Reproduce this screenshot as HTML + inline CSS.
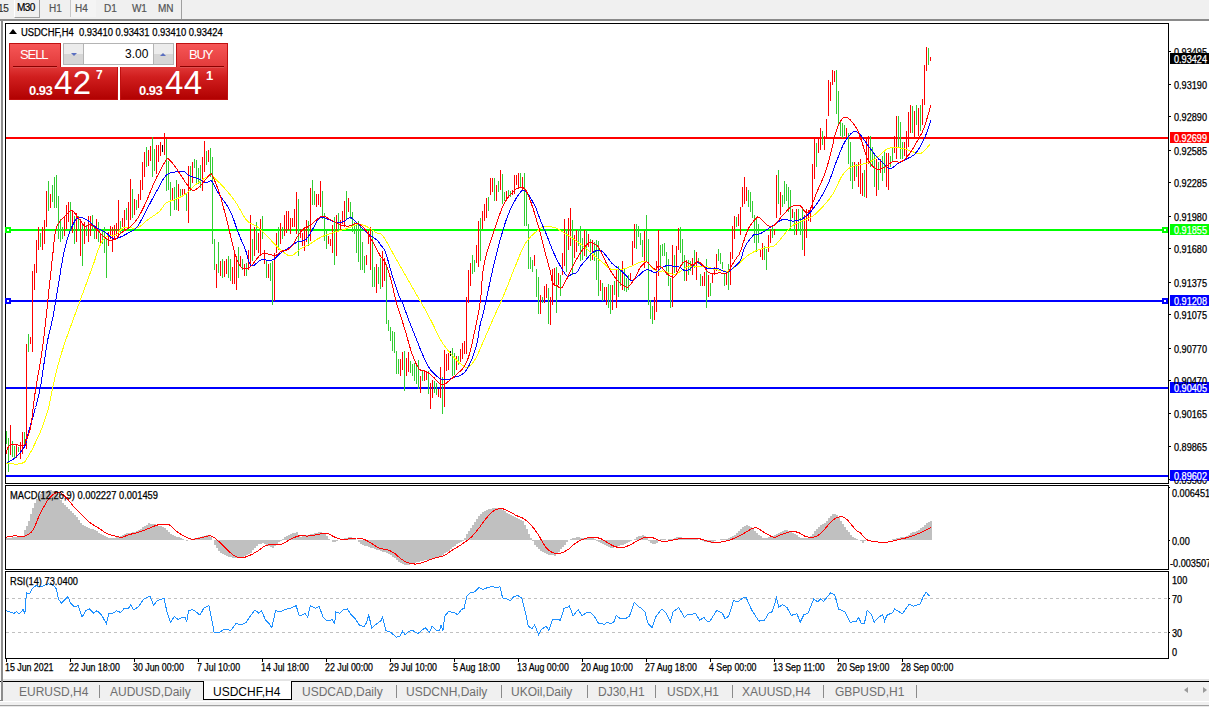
<!DOCTYPE html><html><head><meta charset="utf-8"><style>
*{margin:0;padding:0;box-sizing:border-box}
html,body{width:1209px;height:707px;overflow:hidden;background:#f0f0f0;font-family:"Liberation Sans", sans-serif;}
.a{position:absolute;white-space:nowrap}
.t{z-index:3;position:absolute;white-space:nowrap;font-size:10px;line-height:10px;color:#000;transform-origin:0 0;-webkit-text-stroke:0.25px currentColor}
.p{z-index:3;position:absolute;white-space:nowrap;font-size:10px;line-height:10px;color:#000;left:1174px;transform:scaleX(0.914);transform-origin:0 0;-webkit-text-stroke:0.25px currentColor}
.tab{position:absolute;white-space:nowrap;font-size:12px;line-height:12px;color:#6e6e6e;top:686px}
</style></head><body>
<div class="a" style="left:14px;top:0;width:26px;height:18px;background:#f0f0f0;border-left:1px solid #fff;border-right:1px solid #a0a0a0;border-bottom:1px solid #a0a0a0"></div><div class="a" style="left:70px;top:0;width:26px;height:17px;background:#f4f4f4;border-left:1px solid #c8c8c8"></div><div class="a" style="left:-2px;top:4px;font-size:10px;line-height:10px;color:#333;letter-spacing:-0.2px;-webkit-text-stroke:0.2px #333">15</div><div class="a" style="left:17px;top:3px;font-size:10px;line-height:10px;color:#000;letter-spacing:-0.6px;-webkit-text-stroke:0.2px #000">M30</div><div class="a" style="left:49px;top:4px;font-size:10px;line-height:10px;color:#555;letter-spacing:0px;-webkit-text-stroke:0.2px #555">H1</div><div class="a" style="left:75px;top:4px;font-size:10px;line-height:10px;color:#555;letter-spacing:0px;-webkit-text-stroke:0.2px #555">H4</div><div class="a" style="left:104px;top:4px;font-size:10px;line-height:10px;color:#555;letter-spacing:0px;-webkit-text-stroke:0.2px #555">D1</div><div class="a" style="left:132px;top:4px;font-size:10px;line-height:10px;color:#555;letter-spacing:-0.3px;-webkit-text-stroke:0.2px #555">W1</div><div class="a" style="left:158px;top:4px;font-size:10px;line-height:10px;color:#555;letter-spacing:0px;-webkit-text-stroke:0.2px #555">MN</div><div class="a" style="left:181px;top:0;width:1px;height:19px;background:#a0a0a0"></div><div class="a" style="left:0;top:19px;width:1209px;height:2px;background:#8a8a8a"></div><div class="a" style="left:3px;top:21px;width:1206px;height:660px;background:#fff"></div><div class="a" style="left:0;top:21px;width:1px;height:680px;background:#f8f8f8"></div><div class="a" style="left:1px;top:20px;width:2px;height:681px;background:#8c8c8c;z-index:2"></div><div class="a" style="left:5px;top:23px;width:1164px;height:461px;border:1px solid #000"></div><div class="a" style="left:5px;top:485px;width:1164px;height:85px;border:1px solid #000"></div><div class="a" style="left:5px;top:571px;width:1164px;height:88px;border:1px solid #000"></div><div class="a" style="left:3px;top:679px;width:1206px;height:2px;background:#e4e4e4"></div><div class="a" style="left:0;top:681px;width:1209px;height:1px;background:#000"></div><div class="a" style="left:0;top:682px;width:1209px;height:19px;background:#f0f0f0"></div><div class="a" style="left:0;top:701px;width:1209px;height:1px;background:#fff"></div><div class="a" style="left:1px;top:682px;width:2px;height:18px;background:#8c8c8c"></div><div class="a" style="left:0;top:682px;width:1px;height:19px;background:#fafafa"></div><div class="a" style="left:0;top:700px;width:3px;height:1px;background:#8c8c8c"></div><div class="a" style="left:0;top:702px;width:1209px;height:3px;background:#f0f0f0"></div><div class="a" style="left:0;top:705px;width:1209px;height:1px;background:#a0a0a0"></div><div class="a" style="left:0;top:706px;width:1209px;height:1px;background:#e8e8e8"></div><div class="a" style="left:203px;top:681px;width:89px;height:19px;background:#fff;border:1px solid #000;border-top:none"></div><div class="tab" style="left:19px;color:#6e6e6e">EURUSD,H4</div><div class="tab" style="left:110px;color:#6e6e6e">AUDUSD,Daily</div><div class="tab" style="left:213px;color:#000">USDCHF,H4</div><div class="tab" style="left:302px;color:#6e6e6e">USDCAD,Daily</div><div class="tab" style="left:406px;color:#6e6e6e">USDCNH,Daily</div><div class="tab" style="left:511px;color:#6e6e6e">UKOil,Daily</div><div class="tab" style="left:598px;color:#6e6e6e">DJ30,H1</div><div class="tab" style="left:667px;color:#6e6e6e">USDX,H1</div><div class="tab" style="left:742px;color:#6e6e6e">XAUUSD,H4</div><div class="tab" style="left:835px;color:#6e6e6e">GBPUSD,H1</div><div class="a" style="left:99px;top:685px;width:1px;height:13px;background:#8a8a8a"></div><div class="a" style="left:396px;top:685px;width:1px;height:13px;background:#8a8a8a"></div><div class="a" style="left:501px;top:685px;width:1px;height:13px;background:#8a8a8a"></div><div class="a" style="left:587px;top:685px;width:1px;height:13px;background:#8a8a8a"></div><div class="a" style="left:655px;top:685px;width:1px;height:13px;background:#8a8a8a"></div><div class="a" style="left:732px;top:685px;width:1px;height:13px;background:#8a8a8a"></div><div class="a" style="left:823px;top:685px;width:1px;height:13px;background:#8a8a8a"></div><div class="a" style="left:916px;top:685px;width:1px;height:13px;background:#8a8a8a"></div><div class="a" style="left:1184px;top:687px;width:0;height:0;border-top:3px solid transparent;border-bottom:3px solid transparent;border-right:4px solid #9a9a9a"></div><div class="a" style="left:1203px;top:687px;width:0;height:0;border-top:3px solid transparent;border-bottom:3px solid transparent;border-left:4px solid #9a9a9a"></div><div class="a" style="left:9px;top:29px;width:0;height:0;border-left:4px solid transparent;border-right:4px solid transparent;border-bottom:5px solid #000"></div><div class="t" style="left:21px;top:28px;transform:scaleX(0.94)">USDCHF,H4&nbsp; 0.93410 0.93431 0.93410 0.93424</div><div class="a" style="left:9px;top:43px;width:52px;height:24px;background:linear-gradient(#f65656,#e23a3a 40%,#d01e1e 60%,#b00000);background-size:100% 57px;background-position:0 0;border:1px solid #c01010;border-bottom:none"></div><div class="a" style="left:9px;top:67px;width:109px;height:33px;background:linear-gradient(#f65656,#e23a3a 40%,#d01e1e 60%,#b00000);background-size:100% 57px;background-position:0 -24px;border:1px solid #c01010;border-top:none"></div><div class="a" style="left:176px;top:43px;width:52px;height:24px;background:linear-gradient(#f65656,#e23a3a 40%,#d01e1e 60%,#b00000);background-size:100% 57px;background-position:0 0;border:1px solid #c01010;border-bottom:none"></div><div class="a" style="left:120px;top:67px;width:108px;height:33px;background:linear-gradient(#f65656,#e23a3a 40%,#d01e1e 60%,#b00000);background-size:100% 57px;background-position:0 -24px;border:1px solid #c01010;border-top:none"></div><div class="a" style="left:13px;top:66px;width:44px;height:1px;background:#8a0000"></div><div class="a" style="left:13px;top:67px;width:44px;height:1px;background:#e05050"></div><div class="a" style="left:180px;top:66px;width:44px;height:1px;background:#8a0000"></div><div class="a" style="left:180px;top:67px;width:44px;height:1px;background:#e05050"></div><div class="a" style="left:20px;top:48px;font-size:13px;line-height:13px;color:#fff;letter-spacing:-1.1px">SELL</div><div class="a" style="left:189px;top:48px;font-size:13px;line-height:13px;color:#fff;letter-spacing:-1.1px">BUY</div><div class="a" style="left:63px;top:43px;width:111px;height:22px;background:#fff;border:1px solid #b4b4b4"></div><div class="a" style="left:64px;top:44px;width:20px;height:20px;background:linear-gradient(#ececec 50%,#d6d6d6 50%);border-right:1px solid #b4b4b4"></div><div class="a" style="left:153px;top:44px;width:20px;height:20px;background:linear-gradient(#ececec 50%,#d6d6d6 50%);border-left:1px solid #b4b4b4"></div><div class="a" style="left:71px;top:53px;width:0;height:0;border-left:3px solid transparent;border-right:3px solid transparent;border-top:3px solid #5a6fc0"></div><div class="a" style="left:160px;top:53px;width:0;height:0;border-left:3px solid transparent;border-right:3px solid transparent;border-bottom:3px solid #5a6fc0"></div><div class="a" style="left:125px;top:48px;font-size:12px;line-height:12px;color:#000">3.00</div><div class="a" style="left:29px;top:84px;font-size:13px;line-height:13px;color:#fff;font-weight:bold;letter-spacing:-0.5px">0.93</div><div class="a" style="left:54px;top:66px;font-size:33px;line-height:33px;color:#fff;letter-spacing:0.5px">42</div><div class="a" style="left:96px;top:69px;font-size:12px;line-height:12px;color:#fff;font-weight:bold">7</div><div class="a" style="left:139px;top:84px;font-size:13px;line-height:13px;color:#fff;font-weight:bold;letter-spacing:-0.5px">0.93</div><div class="a" style="left:165px;top:66px;font-size:33px;line-height:33px;color:#fff;letter-spacing:0.5px">44</div><div class="a" style="left:206px;top:69px;font-size:13px;line-height:13px;color:#fff;font-weight:bold">1</div><div class="p" style="left:1174px;top:48px;">0.93495</div><div class="p" style="left:1174px;top:81px;">0.93190</div><div class="p" style="left:1174px;top:113px;">0.92890</div><div class="p" style="left:1174px;top:147px;">0.92585</div><div class="p" style="left:1174px;top:179px;">0.92285</div><div class="p" style="left:1174px;top:213px;">0.91980</div><div class="p" style="left:1174px;top:245px;">0.91680</div><div class="p" style="left:1174px;top:279px;">0.91375</div><div class="p" style="left:1174px;top:311px;">0.91075</div><div class="p" style="left:1174px;top:345px;">0.90770</div><div class="p" style="left:1174px;top:377px;">0.90470</div><div class="p" style="left:1174px;top:410px;">0.90165</div><div class="p" style="left:1174px;top:443px;">0.89865</div><div class="a" style="left:1174px;top:480px;width:35px;height:4px;overflow:hidden"><div class="p" style="left:0;top:-4px">0.89560</div></div><div class="a" style="left:1170px;top:53px;width:39px;height:11px;background:#000;z-index:2"></div><div class="p" style="left:1174px;top:55px;color:#fff">0.93424</div><div class="a" style="left:1170px;top:132px;width:39px;height:11px;background:#ff0000;z-index:2"></div><div class="p" style="left:1174px;top:134px;color:#fff">0.92699</div><div class="a" style="left:1170px;top:224px;width:39px;height:11px;background:#00ff00;z-index:2"></div><div class="p" style="left:1174px;top:226px;color:#fff">0.91855</div><div class="a" style="left:1170px;top:295px;width:39px;height:11px;background:#0000ff;z-index:2"></div><div class="p" style="left:1174px;top:297px;color:#fff">0.91208</div><div class="a" style="left:1170px;top:382px;width:39px;height:11px;background:#0000ff;z-index:2"></div><div class="p" style="left:1174px;top:384px;color:#fff">0.90405</div><div class="a" style="left:1170px;top:470px;width:39px;height:11px;background:#0000ff;z-index:2"></div><div class="p" style="left:1174px;top:472px;color:#fff">0.89602</div><div class="t" style="left:10px;top:491px;transform:scaleX(0.934)">MACD(12,26,9) 0.002227 0.001459</div><div class="p" style="left:1172px;top:489px;left:1172px">0.006451</div><div class="p" style="left:1172px;top:537px;left:1172px">0.00</div><div class="a" style="left:1170px;top:559px;width:39px;height:10px;overflow:hidden"><div class="p" style="left:0;top:0px">-0.003507</div></div><div class="t" style="left:10px;top:577px;transform:scaleX(0.926)">RSI(14) 73.0400</div><div class="p" style="left:1172px;top:576px;left:1172px">100</div><div class="p" style="left:1172px;top:595px;left:1172px">70</div><div class="p" style="left:1172px;top:629px;left:1172px">30</div><div class="p" style="left:1172px;top:648px;left:1172px">0</div><div class="t" style="left:5px;top:663px;transform:scaleX(0.88)">15 Jun 2021</div><div class="t" style="left:69px;top:663px;transform:scaleX(0.88)">22 Jun 18:00</div><div class="t" style="left:133px;top:663px;transform:scaleX(0.88)">30 Jun 00:00</div><div class="t" style="left:197px;top:663px;transform:scaleX(0.88)">7 Jul 10:00</div><div class="t" style="left:261px;top:663px;transform:scaleX(0.88)">14 Jul 18:00</div><div class="t" style="left:325px;top:663px;transform:scaleX(0.88)">22 Jul 00:00</div><div class="t" style="left:389px;top:663px;transform:scaleX(0.88)">29 Jul 10:00</div><div class="t" style="left:453px;top:663px;transform:scaleX(0.88)">5 Aug 18:00</div><div class="t" style="left:517px;top:663px;transform:scaleX(0.88)">13 Aug 00:00</div><div class="t" style="left:581px;top:663px;transform:scaleX(0.88)">20 Aug 10:00</div><div class="t" style="left:645px;top:663px;transform:scaleX(0.88)">27 Aug 18:00</div><div class="t" style="left:709px;top:663px;transform:scaleX(0.88)">4 Sep 00:00</div><div class="t" style="left:773px;top:663px;transform:scaleX(0.88)">13 Sep 11:00</div><div class="t" style="left:837px;top:663px;transform:scaleX(0.88)">20 Sep 19:00</div><div class="t" style="left:901px;top:663px;transform:scaleX(0.88)">28 Sep 00:00</div>
<svg class="a" style="left:0;top:0;z-index:1" width="1209" height="707" viewBox="0 0 1209 707"><g shape-rendering="crispEdges"><rect x="1169" y="51" width="2" height="1" fill="#000"/><rect x="1169" y="84" width="2" height="1" fill="#000"/><rect x="1169" y="116" width="2" height="1" fill="#000"/><rect x="1169" y="150" width="2" height="1" fill="#000"/><rect x="1169" y="182" width="2" height="1" fill="#000"/><rect x="1169" y="216" width="2" height="1" fill="#000"/><rect x="1169" y="248" width="2" height="1" fill="#000"/><rect x="1169" y="282" width="2" height="1" fill="#000"/><rect x="1169" y="314" width="2" height="1" fill="#000"/><rect x="1169" y="348" width="2" height="1" fill="#000"/><rect x="1169" y="380" width="2" height="1" fill="#000"/><rect x="1169" y="413" width="2" height="1" fill="#000"/><rect x="1169" y="446" width="2" height="1" fill="#000"/><rect x="1169" y="479" width="2" height="1" fill="#000"/><rect x="6" y="137" width="1162" height="2" fill="#ff0000"/><rect x="6" y="229" width="1162" height="2" fill="#00ff00"/><rect x="6" y="300" width="1162" height="2" fill="#0000ff"/><rect x="6" y="387" width="1162" height="2" fill="#0000ff"/><rect x="6" y="475" width="1162" height="2" fill="#0000ff"/><rect x="5" y="227" width="6" height="6" fill="#00ff00"/><rect x="7" y="229" width="2" height="2" fill="#fff"/><rect x="5" y="298" width="6" height="6" fill="#0000ff"/><rect x="7" y="300" width="2" height="2" fill="#fff"/><rect x="1162" y="227" width="6" height="6" fill="#00ff00"/><rect x="1164" y="229" width="2" height="2" fill="#fff"/><rect x="1162" y="298" width="6" height="6" fill="#0000ff"/><rect x="1164" y="300" width="2" height="2" fill="#fff"/><rect x="6" y="431" width="1" height="13" fill="#32cd32"/><rect x="8" y="438" width="1" height="34" fill="#32cd32"/><rect x="10" y="425" width="1" height="30" fill="#ff0000"/><rect x="12" y="441" width="1" height="16" fill="#32cd32"/><rect x="14" y="446" width="1" height="12" fill="#32cd32"/><rect x="16" y="444" width="1" height="14" fill="#ff0000"/><rect x="18" y="447" width="1" height="5" fill="#32cd32"/><rect x="20" y="442" width="1" height="17" fill="#ff0000"/><rect x="22" y="432" width="1" height="22" fill="#ff0000"/><rect x="24" y="432" width="1" height="16" fill="#32cd32"/><rect x="26" y="344" width="1" height="105" fill="#ff0000"/><rect x="28" y="334" width="1" height="18" fill="#32cd32"/><rect x="30" y="337" width="1" height="7" fill="#ff0000"/><rect x="32" y="271" width="1" height="81" fill="#ff0000"/><rect x="34" y="264" width="1" height="26" fill="#ff0000"/><rect x="36" y="240" width="1" height="33" fill="#ff0000"/><rect x="38" y="227" width="1" height="23" fill="#ff0000"/><rect x="40" y="233" width="1" height="14" fill="#32cd32"/><rect x="42" y="227" width="1" height="23" fill="#ff0000"/><rect x="44" y="220" width="1" height="24" fill="#ff0000"/><rect x="46" y="191" width="1" height="36" fill="#ff0000"/><rect x="48" y="181" width="1" height="30" fill="#32cd32"/><rect x="50" y="194" width="1" height="14" fill="#ff0000"/><rect x="52" y="185" width="1" height="17" fill="#32cd32"/><rect x="54" y="177" width="1" height="31" fill="#32cd32"/><rect x="56" y="175" width="1" height="33" fill="#32cd32"/><rect x="58" y="196" width="1" height="43" fill="#32cd32"/><rect x="60" y="219" width="1" height="23" fill="#32cd32"/><rect x="62" y="227" width="1" height="12" fill="#32cd32"/><rect x="64" y="216" width="1" height="20" fill="#ff0000"/><rect x="66" y="205" width="1" height="24" fill="#ff0000"/><rect x="68" y="202" width="1" height="20" fill="#ff0000"/><rect x="70" y="202" width="1" height="28" fill="#32cd32"/><rect x="72" y="211" width="1" height="22" fill="#ff0000"/><rect x="74" y="216" width="1" height="28" fill="#32cd32"/><rect x="76" y="213" width="1" height="29" fill="#ff0000"/><rect x="78" y="216" width="1" height="14" fill="#32cd32"/><rect x="80" y="219" width="1" height="37" fill="#ff0000"/><rect x="82" y="225" width="1" height="41" fill="#32cd32"/><rect x="84" y="222" width="1" height="22" fill="#ff0000"/><rect x="86" y="225" width="1" height="11" fill="#32cd32"/><rect x="88" y="216" width="1" height="26" fill="#ff0000"/><rect x="90" y="216" width="1" height="20" fill="#ff0000"/><rect x="92" y="215" width="1" height="15" fill="#32cd32"/><rect x="94" y="225" width="1" height="14" fill="#32cd32"/><rect x="96" y="219" width="1" height="20" fill="#ff0000"/><rect x="98" y="222" width="1" height="20" fill="#32cd32"/><rect x="100" y="233" width="1" height="11" fill="#ff0000"/><rect x="102" y="230" width="1" height="14" fill="#32cd32"/><rect x="104" y="227" width="1" height="26" fill="#32cd32"/><rect x="106" y="239" width="1" height="39" fill="#32cd32"/><rect x="108" y="232" width="1" height="14" fill="#ff0000"/><rect x="110" y="226" width="1" height="13" fill="#ff0000"/><rect x="112" y="227" width="1" height="25" fill="#ff0000"/><rect x="114" y="225" width="1" height="14" fill="#ff0000"/><rect x="116" y="223" width="1" height="13" fill="#ff0000"/><rect x="118" y="200" width="1" height="37" fill="#ff0000"/><rect x="120" y="221" width="1" height="13" fill="#32cd32"/><rect x="122" y="218" width="1" height="9" fill="#ff0000"/><rect x="124" y="210" width="1" height="20" fill="#ff0000"/><rect x="126" y="208" width="1" height="12" fill="#32cd32"/><rect x="128" y="202" width="1" height="25" fill="#ff0000"/><rect x="130" y="179" width="1" height="41" fill="#ff0000"/><rect x="132" y="189" width="1" height="29" fill="#32cd32"/><rect x="134" y="199" width="1" height="16" fill="#ff0000"/><rect x="136" y="200" width="1" height="10" fill="#32cd32"/><rect x="138" y="194" width="1" height="14" fill="#ff0000"/><rect x="140" y="180" width="1" height="20" fill="#ff0000"/><rect x="142" y="162" width="1" height="28" fill="#ff0000"/><rect x="144" y="152" width="1" height="25" fill="#ff0000"/><rect x="146" y="147" width="1" height="20" fill="#32cd32"/><rect x="148" y="150" width="1" height="16" fill="#ff0000"/><rect x="150" y="146" width="1" height="15" fill="#ff0000"/><rect x="152" y="137" width="1" height="40" fill="#32cd32"/><rect x="154" y="149" width="1" height="22" fill="#32cd32"/><rect x="156" y="145" width="1" height="29" fill="#ff0000"/><rect x="158" y="145" width="1" height="17" fill="#ff0000"/><rect x="160" y="142" width="1" height="14" fill="#ff0000"/><rect x="162" y="145" width="1" height="7" fill="#000000"/><rect x="164" y="133" width="1" height="22" fill="#ff0000"/><rect x="166" y="139" width="1" height="52" fill="#32cd32"/><rect x="168" y="161" width="1" height="29" fill="#32cd32"/><rect x="170" y="182" width="1" height="34" fill="#32cd32"/><rect x="172" y="188" width="1" height="13" fill="#ff0000"/><rect x="174" y="187" width="1" height="23" fill="#32cd32"/><rect x="176" y="180" width="1" height="30" fill="#32cd32"/><rect x="178" y="184" width="1" height="27" fill="#ff0000"/><rect x="180" y="189" width="1" height="9" fill="#32cd32"/><rect x="182" y="189" width="1" height="7" fill="#ff0000"/><rect x="184" y="189" width="1" height="6" fill="#ff0000"/><rect x="186" y="193" width="1" height="18" fill="#32cd32"/><rect x="188" y="166" width="1" height="57" fill="#ff0000"/><rect x="190" y="166" width="1" height="25" fill="#32cd32"/><rect x="192" y="162" width="1" height="21" fill="#ff0000"/><rect x="194" y="159" width="1" height="9" fill="#32cd32"/><rect x="196" y="160" width="1" height="24" fill="#32cd32"/><rect x="198" y="168" width="1" height="16" fill="#32cd32"/><rect x="200" y="165" width="1" height="23" fill="#32cd32"/><rect x="202" y="157" width="1" height="34" fill="#ff0000"/><rect x="204" y="141" width="1" height="31" fill="#ff0000"/><rect x="206" y="151" width="1" height="14" fill="#32cd32"/><rect x="208" y="150" width="1" height="12" fill="#ff0000"/><rect x="210" y="148" width="1" height="29" fill="#32cd32"/><rect x="212" y="157" width="1" height="87" fill="#32cd32"/><rect x="214" y="239" width="1" height="31" fill="#32cd32"/><rect x="216" y="264" width="1" height="24" fill="#ff0000"/><rect x="218" y="242" width="1" height="31" fill="#32cd32"/><rect x="220" y="261" width="1" height="15" fill="#ff0000"/><rect x="222" y="259" width="1" height="19" fill="#32cd32"/><rect x="224" y="261" width="1" height="16" fill="#ff0000"/><rect x="226" y="259" width="1" height="15" fill="#ff0000"/><rect x="228" y="256" width="1" height="22" fill="#32cd32"/><rect x="230" y="259" width="1" height="22" fill="#32cd32"/><rect x="232" y="267" width="1" height="17" fill="#ff0000"/><rect x="234" y="253" width="1" height="31" fill="#ff0000"/><rect x="236" y="256" width="1" height="34" fill="#ff0000"/><rect x="238" y="247" width="1" height="31" fill="#32cd32"/><rect x="240" y="256" width="1" height="11" fill="#ff0000"/><rect x="242" y="259" width="1" height="11" fill="#32cd32"/><rect x="244" y="264" width="1" height="12" fill="#ff0000"/><rect x="246" y="263" width="1" height="13" fill="#32cd32"/><rect x="248" y="250" width="1" height="20" fill="#ff0000"/><rect x="250" y="215" width="1" height="49" fill="#ff0000"/><rect x="252" y="239" width="1" height="22" fill="#32cd32"/><rect x="254" y="227" width="1" height="29" fill="#ff0000"/><rect x="256" y="222" width="1" height="28" fill="#32cd32"/><rect x="258" y="233" width="1" height="20" fill="#ff0000"/><rect x="260" y="219" width="1" height="37" fill="#ff0000"/><rect x="262" y="216" width="1" height="23" fill="#32cd32"/><rect x="264" y="250" width="1" height="14" fill="#ff0000"/><rect x="266" y="261" width="1" height="17" fill="#32cd32"/><rect x="268" y="264" width="1" height="14" fill="#ff0000"/><rect x="270" y="263" width="1" height="18" fill="#32cd32"/><rect x="272" y="261" width="1" height="44" fill="#32cd32"/><rect x="274" y="253" width="1" height="48" fill="#ff0000"/><rect x="276" y="233" width="1" height="20" fill="#ff0000"/><rect x="278" y="227" width="1" height="23" fill="#32cd32"/><rect x="280" y="223" width="1" height="21" fill="#ff0000"/><rect x="282" y="227" width="1" height="12" fill="#32cd32"/><rect x="284" y="215" width="1" height="21" fill="#ff0000"/><rect x="286" y="211" width="1" height="22" fill="#ff0000"/><rect x="288" y="211" width="1" height="19" fill="#ff0000"/><rect x="290" y="218" width="1" height="16" fill="#ff0000"/><rect x="292" y="218" width="1" height="9" fill="#ff0000"/><rect x="294" y="209" width="1" height="18" fill="#ff0000"/><rect x="296" y="192" width="1" height="42" fill="#ff0000"/><rect x="298" y="199" width="1" height="57" fill="#32cd32"/><rect x="300" y="229" width="1" height="9" fill="#ff0000"/><rect x="302" y="233" width="1" height="13" fill="#ff0000"/><rect x="304" y="227" width="1" height="24" fill="#ff0000"/><rect x="306" y="220" width="1" height="22" fill="#ff0000"/><rect x="308" y="221" width="1" height="25" fill="#32cd32"/><rect x="310" y="188" width="1" height="53" fill="#ff0000"/><rect x="312" y="180" width="1" height="25" fill="#32cd32"/><rect x="314" y="191" width="1" height="14" fill="#32cd32"/><rect x="316" y="194" width="1" height="13" fill="#ff0000"/><rect x="318" y="194" width="1" height="11" fill="#ff0000"/><rect x="320" y="181" width="1" height="26" fill="#ff0000"/><rect x="322" y="191" width="1" height="28" fill="#32cd32"/><rect x="324" y="213" width="1" height="28" fill="#32cd32"/><rect x="326" y="229" width="1" height="20" fill="#32cd32"/><rect x="328" y="236" width="1" height="8" fill="#ff0000"/><rect x="330" y="239" width="1" height="7" fill="#ff0000"/><rect x="332" y="225" width="1" height="28" fill="#ff0000"/><rect x="334" y="217" width="1" height="48" fill="#32cd32"/><rect x="336" y="215" width="1" height="41" fill="#ff0000"/><rect x="338" y="213" width="1" height="18" fill="#32cd32"/><rect x="340" y="220" width="1" height="11" fill="#ff0000"/><rect x="342" y="211" width="1" height="13" fill="#ff0000"/><rect x="344" y="201" width="1" height="26" fill="#ff0000"/><rect x="346" y="191" width="1" height="29" fill="#32cd32"/><rect x="348" y="198" width="1" height="14" fill="#ff0000"/><rect x="350" y="202" width="1" height="17" fill="#32cd32"/><rect x="352" y="212" width="1" height="20" fill="#32cd32"/><rect x="354" y="222" width="1" height="12" fill="#32cd32"/><rect x="356" y="222" width="1" height="31" fill="#32cd32"/><rect x="358" y="221" width="1" height="41" fill="#32cd32"/><rect x="360" y="225" width="1" height="45" fill="#32cd32"/><rect x="362" y="242" width="1" height="28" fill="#32cd32"/><rect x="364" y="256" width="1" height="17" fill="#32cd32"/><rect x="366" y="255" width="1" height="10" fill="#ff0000"/><rect x="368" y="231" width="1" height="13" fill="#ff0000"/><rect x="370" y="227" width="1" height="43" fill="#ff0000"/><rect x="372" y="230" width="1" height="57" fill="#32cd32"/><rect x="374" y="267" width="1" height="20" fill="#32cd32"/><rect x="376" y="264" width="1" height="29" fill="#ff0000"/><rect x="378" y="267" width="1" height="17" fill="#32cd32"/><rect x="380" y="258" width="1" height="31" fill="#32cd32"/><rect x="382" y="251" width="1" height="36" fill="#ff0000"/><rect x="384" y="258" width="1" height="23" fill="#ff0000"/><rect x="386" y="264" width="1" height="60" fill="#32cd32"/><rect x="388" y="320" width="1" height="11" fill="#32cd32"/><rect x="390" y="327" width="1" height="14" fill="#32cd32"/><rect x="392" y="331" width="1" height="20" fill="#32cd32"/><rect x="394" y="332" width="1" height="21" fill="#32cd32"/><rect x="396" y="351" width="1" height="23" fill="#32cd32"/><rect x="398" y="359" width="1" height="15" fill="#32cd32"/><rect x="400" y="359" width="1" height="17" fill="#ff0000"/><rect x="402" y="352" width="1" height="18" fill="#ff0000"/><rect x="404" y="351" width="1" height="40" fill="#32cd32"/><rect x="406" y="358" width="1" height="18" fill="#ff0000"/><rect x="408" y="352" width="1" height="20" fill="#ff0000"/><rect x="410" y="361" width="1" height="12" fill="#32cd32"/><rect x="412" y="364" width="1" height="12" fill="#32cd32"/><rect x="414" y="363" width="1" height="18" fill="#32cd32"/><rect x="416" y="366" width="1" height="18" fill="#32cd32"/><rect x="418" y="360" width="1" height="29" fill="#32cd32"/><rect x="420" y="376" width="1" height="17" fill="#ff0000"/><rect x="422" y="371" width="1" height="10" fill="#32cd32"/><rect x="424" y="370" width="1" height="11" fill="#ff0000"/><rect x="426" y="371" width="1" height="9" fill="#ff0000"/><rect x="428" y="371" width="1" height="23" fill="#32cd32"/><rect x="430" y="383" width="1" height="26" fill="#ff0000"/><rect x="432" y="380" width="1" height="18" fill="#ff0000"/><rect x="434" y="381" width="1" height="12" fill="#32cd32"/><rect x="436" y="383" width="1" height="12" fill="#32cd32"/><rect x="438" y="389" width="1" height="8" fill="#ff0000"/><rect x="440" y="367" width="1" height="31" fill="#ff0000"/><rect x="442" y="377" width="1" height="37" fill="#32cd32"/><rect x="444" y="350" width="1" height="57" fill="#ff0000"/><rect x="446" y="354" width="1" height="17" fill="#ff0000"/><rect x="448" y="353" width="1" height="17" fill="#ff0000"/><rect x="450" y="351" width="1" height="5" fill="#000000"/><rect x="452" y="348" width="1" height="28" fill="#32cd32"/><rect x="454" y="353" width="1" height="22" fill="#32cd32"/><rect x="456" y="356" width="1" height="14" fill="#ff0000"/><rect x="458" y="356" width="1" height="9" fill="#32cd32"/><rect x="460" y="349" width="1" height="13" fill="#ff0000"/><rect x="462" y="343" width="1" height="16" fill="#ff0000"/><rect x="464" y="341" width="1" height="13" fill="#ff0000"/><rect x="466" y="297" width="1" height="57" fill="#ff0000"/><rect x="468" y="270" width="1" height="33" fill="#ff0000"/><rect x="470" y="263" width="1" height="23" fill="#ff0000"/><rect x="472" y="255" width="1" height="19" fill="#32cd32"/><rect x="474" y="260" width="1" height="12" fill="#32cd32"/><rect x="476" y="245" width="1" height="18" fill="#ff0000"/><rect x="478" y="221" width="1" height="46" fill="#ff0000"/><rect x="480" y="218" width="1" height="43" fill="#32cd32"/><rect x="482" y="211" width="1" height="18" fill="#ff0000"/><rect x="484" y="204" width="1" height="17" fill="#ff0000"/><rect x="486" y="198" width="1" height="20" fill="#ff0000"/><rect x="488" y="197" width="1" height="14" fill="#32cd32"/><rect x="490" y="178" width="1" height="17" fill="#ff0000"/><rect x="492" y="178" width="1" height="14" fill="#ff0000"/><rect x="494" y="178" width="1" height="23" fill="#32cd32"/><rect x="496" y="185" width="1" height="16" fill="#ff0000"/><rect x="498" y="181" width="1" height="11" fill="#32cd32"/><rect x="500" y="170" width="1" height="20" fill="#ff0000"/><rect x="502" y="174" width="1" height="30" fill="#32cd32"/><rect x="504" y="192" width="1" height="9" fill="#32cd32"/><rect x="506" y="191" width="1" height="10" fill="#ff0000"/><rect x="508" y="190" width="1" height="8" fill="#32cd32"/><rect x="510" y="191" width="1" height="6" fill="#32cd32"/><rect x="512" y="190" width="1" height="5" fill="#ff0000"/><rect x="514" y="175" width="1" height="19" fill="#ff0000"/><rect x="516" y="175" width="1" height="10" fill="#ff0000"/><rect x="518" y="173" width="1" height="15" fill="#ff0000"/><rect x="520" y="173" width="1" height="14" fill="#32cd32"/><rect x="522" y="177" width="1" height="13" fill="#ff0000"/><rect x="524" y="173" width="1" height="53" fill="#32cd32"/><rect x="526" y="190" width="1" height="36" fill="#32cd32"/><rect x="528" y="224" width="1" height="45" fill="#32cd32"/><rect x="530" y="257" width="1" height="12" fill="#32cd32"/><rect x="532" y="260" width="1" height="12" fill="#32cd32"/><rect x="534" y="255" width="1" height="11" fill="#ff0000"/><rect x="536" y="269" width="1" height="28" fill="#32cd32"/><rect x="538" y="277" width="1" height="37" fill="#32cd32"/><rect x="540" y="295" width="1" height="19" fill="#ff0000"/><rect x="542" y="297" width="1" height="6" fill="#32cd32"/><rect x="544" y="286" width="1" height="17" fill="#ff0000"/><rect x="546" y="284" width="1" height="14" fill="#ff0000"/><rect x="548" y="288" width="1" height="36" fill="#32cd32"/><rect x="550" y="297" width="1" height="28" fill="#ff0000"/><rect x="552" y="269" width="1" height="36" fill="#ff0000"/><rect x="554" y="268" width="1" height="18" fill="#ff0000"/><rect x="556" y="267" width="1" height="46" fill="#32cd32"/><rect x="558" y="273" width="1" height="12" fill="#ff0000"/><rect x="560" y="275" width="1" height="21" fill="#32cd32"/><rect x="562" y="253" width="1" height="22" fill="#ff0000"/><rect x="564" y="219" width="1" height="47" fill="#ff0000"/><rect x="566" y="230" width="1" height="42" fill="#32cd32"/><rect x="568" y="218" width="1" height="32" fill="#ff0000"/><rect x="570" y="208" width="1" height="38" fill="#ff0000"/><rect x="572" y="220" width="1" height="55" fill="#32cd32"/><rect x="574" y="235" width="1" height="23" fill="#ff0000"/><rect x="576" y="230" width="1" height="22" fill="#ff0000"/><rect x="578" y="229" width="1" height="17" fill="#32cd32"/><rect x="580" y="226" width="1" height="35" fill="#32cd32"/><rect x="582" y="238" width="1" height="22" fill="#32cd32"/><rect x="584" y="230" width="1" height="26" fill="#ff0000"/><rect x="586" y="230" width="1" height="27" fill="#32cd32"/><rect x="588" y="234" width="1" height="13" fill="#ff0000"/><rect x="590" y="239" width="1" height="22" fill="#32cd32"/><rect x="592" y="240" width="1" height="20" fill="#ff0000"/><rect x="594" y="242" width="1" height="19" fill="#32cd32"/><rect x="596" y="240" width="1" height="40" fill="#32cd32"/><rect x="598" y="241" width="1" height="55" fill="#32cd32"/><rect x="600" y="280" width="1" height="11" fill="#ff0000"/><rect x="602" y="283" width="1" height="18" fill="#32cd32"/><rect x="604" y="287" width="1" height="13" fill="#ff0000"/><rect x="606" y="287" width="1" height="18" fill="#ff0000"/><rect x="608" y="284" width="1" height="24" fill="#32cd32"/><rect x="610" y="285" width="1" height="29" fill="#32cd32"/><rect x="612" y="285" width="1" height="25" fill="#ff0000"/><rect x="614" y="281" width="1" height="14" fill="#32cd32"/><rect x="616" y="269" width="1" height="39" fill="#ff0000"/><rect x="618" y="266" width="1" height="31" fill="#32cd32"/><rect x="620" y="271" width="1" height="15" fill="#32cd32"/><rect x="622" y="261" width="1" height="29" fill="#ff0000"/><rect x="624" y="268" width="1" height="23" fill="#32cd32"/><rect x="626" y="278" width="1" height="14" fill="#32cd32"/><rect x="628" y="275" width="1" height="15" fill="#32cd32"/><rect x="630" y="273" width="1" height="8" fill="#ff0000"/><rect x="632" y="241" width="1" height="25" fill="#ff0000"/><rect x="634" y="224" width="1" height="24" fill="#ff0000"/><rect x="636" y="224" width="1" height="25" fill="#32cd32"/><rect x="638" y="226" width="1" height="11" fill="#32cd32"/><rect x="640" y="233" width="1" height="12" fill="#32cd32"/><rect x="642" y="240" width="1" height="17" fill="#32cd32"/><rect x="644" y="231" width="1" height="37" fill="#ff0000"/><rect x="646" y="215" width="1" height="46" fill="#32cd32"/><rect x="648" y="239" width="1" height="66" fill="#32cd32"/><rect x="650" y="300" width="1" height="19" fill="#32cd32"/><rect x="652" y="306" width="1" height="18" fill="#32cd32"/><rect x="654" y="297" width="1" height="23" fill="#ff0000"/><rect x="656" y="261" width="1" height="51" fill="#ff0000"/><rect x="658" y="230" width="1" height="46" fill="#ff0000"/><rect x="660" y="245" width="1" height="24" fill="#32cd32"/><rect x="662" y="244" width="1" height="12" fill="#32cd32"/><rect x="664" y="243" width="1" height="13" fill="#32cd32"/><rect x="666" y="252" width="1" height="23" fill="#32cd32"/><rect x="668" y="259" width="1" height="27" fill="#32cd32"/><rect x="670" y="278" width="1" height="30" fill="#32cd32"/><rect x="672" y="245" width="1" height="62" fill="#ff0000"/><rect x="674" y="255" width="1" height="18" fill="#32cd32"/><rect x="676" y="246" width="1" height="26" fill="#ff0000"/><rect x="678" y="228" width="1" height="22" fill="#ff0000"/><rect x="680" y="227" width="1" height="26" fill="#32cd32"/><rect x="682" y="239" width="1" height="26" fill="#32cd32"/><rect x="684" y="255" width="1" height="26" fill="#32cd32"/><rect x="686" y="260" width="1" height="21" fill="#ff0000"/><rect x="688" y="260" width="1" height="15" fill="#32cd32"/><rect x="690" y="261" width="1" height="10" fill="#32cd32"/><rect x="692" y="258" width="1" height="17" fill="#ff0000"/><rect x="694" y="250" width="1" height="18" fill="#32cd32"/><rect x="696" y="252" width="1" height="28" fill="#ff0000"/><rect x="698" y="258" width="1" height="6" fill="#32cd32"/><rect x="700" y="274" width="1" height="12" fill="#32cd32"/><rect x="702" y="276" width="1" height="10" fill="#ff0000"/><rect x="704" y="272" width="1" height="14" fill="#ff0000"/><rect x="706" y="259" width="1" height="49" fill="#32cd32"/><rect x="708" y="275" width="1" height="22" fill="#ff0000"/><rect x="710" y="283" width="1" height="13" fill="#32cd32"/><rect x="712" y="273" width="1" height="10" fill="#ff0000"/><rect x="714" y="267" width="1" height="8" fill="#ff0000"/><rect x="716" y="254" width="1" height="17" fill="#ff0000"/><rect x="718" y="249" width="1" height="12" fill="#32cd32"/><rect x="720" y="253" width="1" height="11" fill="#32cd32"/><rect x="722" y="262" width="1" height="7" fill="#32cd32"/><rect x="724" y="273" width="1" height="13" fill="#32cd32"/><rect x="726" y="271" width="1" height="14" fill="#ff0000"/><rect x="728" y="264" width="1" height="26" fill="#32cd32"/><rect x="730" y="252" width="1" height="33" fill="#ff0000"/><rect x="732" y="226" width="1" height="33" fill="#ff0000"/><rect x="734" y="216" width="1" height="23" fill="#ff0000"/><rect x="736" y="217" width="1" height="10" fill="#32cd32"/><rect x="738" y="214" width="1" height="12" fill="#ff0000"/><rect x="740" y="207" width="1" height="28" fill="#ff0000"/><rect x="742" y="187" width="1" height="20" fill="#ff0000"/><rect x="744" y="177" width="1" height="27" fill="#ff0000"/><rect x="746" y="187" width="1" height="14" fill="#ff0000"/><rect x="748" y="190" width="1" height="17" fill="#32cd32"/><rect x="750" y="192" width="1" height="20" fill="#32cd32"/><rect x="752" y="201" width="1" height="17" fill="#32cd32"/><rect x="754" y="215" width="1" height="28" fill="#32cd32"/><rect x="756" y="218" width="1" height="34" fill="#32cd32"/><rect x="758" y="224" width="1" height="19" fill="#32cd32"/><rect x="760" y="249" width="1" height="8" fill="#ff0000"/><rect x="762" y="243" width="1" height="17" fill="#ff0000"/><rect x="764" y="246" width="1" height="14" fill="#32cd32"/><rect x="766" y="249" width="1" height="21" fill="#32cd32"/><rect x="768" y="235" width="1" height="17" fill="#ff0000"/><rect x="770" y="229" width="1" height="14" fill="#ff0000"/><rect x="772" y="226" width="1" height="12" fill="#32cd32"/><rect x="774" y="229" width="1" height="6" fill="#ff0000"/><rect x="776" y="175" width="1" height="43" fill="#ff0000"/><rect x="778" y="170" width="1" height="34" fill="#32cd32"/><rect x="780" y="192" width="1" height="23" fill="#ff0000"/><rect x="782" y="195" width="1" height="12" fill="#32cd32"/><rect x="784" y="181" width="1" height="23" fill="#32cd32"/><rect x="786" y="184" width="1" height="17" fill="#32cd32"/><rect x="788" y="187" width="1" height="25" fill="#32cd32"/><rect x="790" y="190" width="1" height="39" fill="#32cd32"/><rect x="792" y="209" width="1" height="9" fill="#ff0000"/><rect x="794" y="212" width="1" height="23" fill="#32cd32"/><rect x="796" y="209" width="1" height="26" fill="#ff0000"/><rect x="798" y="209" width="1" height="20" fill="#32cd32"/><rect x="800" y="218" width="1" height="17" fill="#32cd32"/><rect x="802" y="207" width="1" height="43" fill="#32cd32"/><rect x="804" y="215" width="1" height="41" fill="#ff0000"/><rect x="806" y="209" width="1" height="29" fill="#ff0000"/><rect x="808" y="210" width="1" height="11" fill="#ff0000"/><rect x="810" y="207" width="1" height="15" fill="#ff0000"/><rect x="812" y="164" width="1" height="46" fill="#ff0000"/><rect x="814" y="139" width="1" height="40" fill="#ff0000"/><rect x="816" y="143" width="1" height="24" fill="#32cd32"/><rect x="818" y="138" width="1" height="15" fill="#ff0000"/><rect x="820" y="128" width="1" height="22" fill="#ff0000"/><rect x="822" y="131" width="1" height="14" fill="#32cd32"/><rect x="824" y="136" width="1" height="14" fill="#ff0000"/><rect x="826" y="119" width="1" height="20" fill="#ff0000"/><rect x="828" y="80" width="1" height="36" fill="#ff0000"/><rect x="830" y="82" width="1" height="19" fill="#ff0000"/><rect x="832" y="70" width="1" height="15" fill="#ff0000"/><rect x="834" y="71" width="1" height="11" fill="#ff0000"/><rect x="836" y="70" width="1" height="44" fill="#32cd32"/><rect x="838" y="91" width="1" height="34" fill="#32cd32"/><rect x="840" y="122" width="1" height="14" fill="#32cd32"/><rect x="842" y="123" width="1" height="15" fill="#32cd32"/><rect x="844" y="125" width="1" height="11" fill="#32cd32"/><rect x="846" y="128" width="1" height="11" fill="#ff0000"/><rect x="848" y="133" width="1" height="31" fill="#32cd32"/><rect x="850" y="142" width="1" height="39" fill="#32cd32"/><rect x="852" y="162" width="1" height="27" fill="#32cd32"/><rect x="854" y="162" width="1" height="19" fill="#ff0000"/><rect x="856" y="164" width="1" height="13" fill="#32cd32"/><rect x="858" y="162" width="1" height="25" fill="#ff0000"/><rect x="860" y="159" width="1" height="35" fill="#ff0000"/><rect x="862" y="173" width="1" height="23" fill="#ff0000"/><rect x="864" y="170" width="1" height="27" fill="#32cd32"/><rect x="866" y="138" width="1" height="60" fill="#ff0000"/><rect x="868" y="136" width="1" height="28" fill="#ff0000"/><rect x="870" y="136" width="1" height="31" fill="#32cd32"/><rect x="872" y="147" width="1" height="20" fill="#32cd32"/><rect x="874" y="153" width="1" height="34" fill="#32cd32"/><rect x="876" y="159" width="1" height="37" fill="#ff0000"/><rect x="878" y="162" width="1" height="28" fill="#32cd32"/><rect x="880" y="159" width="1" height="14" fill="#ff0000"/><rect x="882" y="156" width="1" height="25" fill="#32cd32"/><rect x="884" y="150" width="1" height="23" fill="#32cd32"/><rect x="886" y="153" width="1" height="34" fill="#ff0000"/><rect x="888" y="153" width="1" height="37" fill="#ff0000"/><rect x="890" y="156" width="1" height="11" fill="#32cd32"/><rect x="892" y="147" width="1" height="15" fill="#32cd32"/><rect x="894" y="136" width="1" height="17" fill="#ff0000"/><rect x="896" y="116" width="1" height="43" fill="#ff0000"/><rect x="898" y="116" width="1" height="31" fill="#32cd32"/><rect x="900" y="122" width="1" height="37" fill="#32cd32"/><rect x="902" y="142" width="1" height="17" fill="#32cd32"/><rect x="904" y="142" width="1" height="14" fill="#ff0000"/><rect x="906" y="131" width="1" height="28" fill="#ff0000"/><rect x="908" y="112" width="1" height="35" fill="#ff0000"/><rect x="910" y="105" width="1" height="28" fill="#ff0000"/><rect x="912" y="106" width="1" height="27" fill="#32cd32"/><rect x="914" y="111" width="1" height="28" fill="#ff0000"/><rect x="916" y="105" width="1" height="20" fill="#32cd32"/><rect x="918" y="108" width="1" height="28" fill="#ff0000"/><rect x="920" y="105" width="1" height="26" fill="#32cd32"/><rect x="922" y="99" width="1" height="26" fill="#ff0000"/><rect x="924" y="65" width="1" height="40" fill="#ff0000"/><rect x="926" y="47" width="1" height="24" fill="#ff0000"/><rect x="928" y="48" width="1" height="17" fill="#32cd32"/><rect x="930" y="57" width="1" height="4" fill="#ff0000"/></g><polyline points="6.4,463.3 7.0,463.4 7.9,463.4 8.9,463.6 10.0,463.7 11.2,463.8 12.5,463.9 13.7,464.0 14.9,464.1 16.0,464.2 17.0,464.1 18.2,464.0 19.3,463.9 20.4,463.7 21.4,463.4 22.3,463.1 23.1,462.8 23.8,462.4 24.8,461.7 25.4,460.9 26.2,459.5 26.6,458.9 27.1,458.2 27.6,457.4 28.1,456.5 28.7,455.6 29.2,454.6 29.8,453.7 30.4,452.7 30.9,451.8 31.3,450.9 31.8,450.1 32.2,449.2 32.7,448.4 33.1,447.5 33.6,446.6 34.0,445.6 34.5,444.6 35.0,443.6 35.6,442.4 35.9,441.6 36.3,440.8 36.7,440.0 37.1,439.1 37.5,438.3 37.9,437.4 38.4,436.5 38.8,435.5 39.2,434.6 39.6,433.6 40.1,432.6 40.5,431.6 40.9,430.6 41.4,429.5 41.8,428.4 42.1,427.6 42.4,426.7 42.8,425.8 43.1,424.9 43.4,423.9 43.8,423.0 44.1,422.0 44.5,421.1 44.8,420.1 45.1,419.1 45.5,418.1 45.8,417.1 46.1,416.0 46.5,415.0 46.8,414.0 47.1,412.9 47.4,411.9 47.7,410.8 48.0,409.8 48.2,408.8 48.5,407.9 48.7,406.9 48.9,406.0 49.2,405.0 49.4,404.0 49.6,403.0 49.8,402.0 50.0,401.0 50.2,400.0 50.4,399.0 50.6,398.0 50.8,396.9 51.0,395.9 51.2,394.9 51.4,393.9 51.6,392.9 51.8,391.9 52.0,390.9 52.2,389.9 52.4,389.0 52.7,388.0 52.9,387.0 53.1,385.9 53.3,384.9 53.6,383.9 53.8,382.9 54.0,381.9 54.2,381.0 54.4,380.0 54.6,379.0 54.8,378.0 55.1,377.0 55.3,376.1 55.5,375.1 55.7,374.1 56.0,373.1 56.2,372.0 56.5,371.0 56.8,369.9 57.0,368.9 57.3,367.8 57.6,366.9 57.8,366.0 58.1,365.1 58.3,364.1 58.6,363.2 58.8,362.3 59.1,361.3 59.4,360.4 59.7,359.4 60.0,358.4 60.2,357.5 60.5,356.5 60.8,355.5 61.1,354.5 61.4,353.5 61.7,352.5 62.0,351.6 62.3,350.6 62.6,349.6 63.0,348.6 63.3,347.6 63.6,346.7 63.9,345.7 64.2,344.7 64.5,343.8 64.8,342.8 65.1,341.9 65.5,340.9 65.8,340.0 66.1,339.0 66.4,338.1 66.8,337.1 67.1,336.2 67.4,335.2 67.8,334.3 68.1,333.3 68.5,332.4 68.8,331.4 69.1,330.5 69.5,329.6 69.8,328.6 70.2,327.7 70.5,326.7 70.9,325.8 71.2,324.8 71.6,323.8 71.9,322.9 72.3,321.9 72.6,321.0 73.0,320.0 73.3,319.1 73.7,318.2 74.0,317.2 74.3,316.3 74.7,315.4 75.0,314.5 75.3,313.6 75.7,312.7 76.0,311.8 76.3,310.9 76.7,310.0 77.0,309.1 77.3,308.2 77.7,307.2 78.0,306.3 78.4,305.4 78.7,304.4 79.1,303.5 79.4,302.5 79.8,301.5 80.1,300.5 80.5,299.5 80.9,298.5 81.3,297.5 81.6,296.5 82.0,295.4 82.3,294.5 82.7,293.7 83.0,292.8 83.3,291.8 83.7,290.9 84.0,290.0 84.4,289.0 84.7,288.0 85.1,287.1 85.4,286.1 85.8,285.1 86.2,284.1 86.5,283.1 86.9,282.1 87.3,281.0 87.6,280.0 88.0,279.0 88.4,278.0 88.7,277.0 89.1,276.0 89.5,275.0 89.8,274.0 90.2,273.1 90.5,272.1 90.9,271.2 91.2,270.2 91.5,269.3 91.8,268.4 92.2,267.6 92.5,266.7 92.8,265.9 93.1,265.1 93.4,264.3 93.8,263.1 94.2,261.9 94.6,260.7 95.0,259.6 95.3,258.5 95.7,257.5 96.0,256.4 96.4,255.4 96.7,254.4 97.0,253.4 97.3,252.5 97.6,251.6 97.9,250.7 98.2,249.8 98.5,249.0 98.8,248.2 99.1,247.4 99.5,246.6 99.8,245.9 100.1,245.2 100.4,244.5 101.1,243.2 101.7,242.1 102.3,241.1 102.9,240.3 103.6,239.4 104.2,238.7 104.8,238.1 105.5,237.5 106.1,236.9 106.8,236.4 107.5,236.0 108.5,235.5 109.5,235.3 110.6,235.2 111.7,235.2 112.8,235.2 113.9,235.1 115.0,235.0 116.0,234.6 116.8,234.1 117.5,233.4 118.1,232.7 118.8,231.9 119.5,231.1 120.2,230.2 120.9,229.4 121.7,228.7 122.6,228.1 123.6,227.7 124.4,227.5 125.4,227.4 126.4,227.4 127.4,227.5 128.5,227.6 129.6,227.7 130.8,227.8 131.9,228.0 133.0,228.1 134.1,228.1 135.2,228.1 136.2,227.9 137.2,227.7 138.1,227.3 139.0,226.9 139.9,226.4 140.7,225.8 141.6,225.1 142.4,224.4 143.2,223.7 144.0,223.0 144.8,222.2 145.6,221.5 146.5,220.8 147.4,220.1 148.2,219.5 149.0,218.9 149.9,218.3 150.8,217.7 151.7,217.1 152.6,216.5 153.5,215.9 154.4,215.3 155.3,214.7 156.2,214.0 157.0,213.4 157.8,212.8 158.5,212.2 159.2,211.6 160.1,210.7 160.9,209.8 161.6,208.9 162.2,207.9 162.8,207.0 163.4,206.1 164.0,205.3 164.6,204.5 165.3,203.7 166.0,203.1 166.9,202.5 167.8,202.0 168.7,201.7 169.6,201.3 170.5,201.0 171.5,200.8 172.5,200.5 173.5,200.1 174.5,199.7 175.4,199.3 176.3,198.9 177.2,198.6 178.1,198.2 179.0,197.7 180.0,197.3 180.9,196.8 181.9,196.4 182.8,195.8 183.8,195.2 184.7,194.6 185.5,194.0 186.2,193.4 187.0,192.8 187.7,192.1 188.4,191.4 189.1,190.6 189.9,189.9 190.6,189.1 191.4,188.3 192.2,187.6 193.1,186.8 193.9,186.0 194.9,185.3 195.6,184.7 196.4,184.1 197.3,183.5 198.1,182.8 199.1,182.2 200.0,181.5 201.0,180.8 201.9,180.2 202.9,179.5 203.8,178.9 204.8,178.2 205.7,177.6 206.5,177.1 207.4,176.6 208.1,176.1 208.8,175.7 209.5,175.4 210.0,175.1 211.6,174.4 211.8,174.9 213.0,176.6 213.5,177.0 214.0,177.5 214.6,178.1 215.2,178.6 215.9,179.3 216.6,180.0 217.3,180.7 218.1,181.4 218.9,182.2 219.7,183.0 220.5,183.8 221.3,184.6 222.0,185.5 222.8,186.3 223.6,187.1 224.3,187.9 224.9,188.6 225.5,189.3 226.2,190.0 226.8,190.8 227.4,191.5 228.1,192.2 228.7,193.0 229.3,193.8 229.9,194.5 230.6,195.3 231.2,196.1 231.8,196.9 232.5,197.7 233.1,198.6 233.7,199.4 234.3,200.3 235.0,201.1 235.6,202.0 236.1,202.8 236.7,203.7 237.2,204.5 237.8,205.4 238.3,206.4 238.8,207.3 239.4,208.3 239.9,209.2 240.5,210.2 241.0,211.2 241.5,212.2 242.1,213.1 242.6,214.1 243.1,215.0 243.7,215.9 244.2,216.7 244.8,217.6 245.3,218.4 245.8,219.1 246.4,219.8 246.9,220.4 247.8,221.3 248.7,222.1 249.5,222.7 250.4,223.3 251.3,223.8 252.1,224.2 253.0,224.6 253.9,225.0 254.8,225.4 255.6,225.8 256.5,226.3 257.4,226.8 258.2,227.5 258.9,228.1 259.6,228.7 260.4,229.4 261.1,230.0 261.8,230.7 262.5,231.4 263.2,232.2 263.9,232.9 264.6,233.6 265.3,234.4 266.0,235.1 266.7,235.9 267.4,236.6 268.1,237.4 268.8,238.1 269.6,238.8 270.3,239.5 271.0,240.3 271.7,241.0 272.4,241.8 273.1,242.5 273.9,243.3 274.6,244.1 275.3,244.8 276.0,245.6 276.7,246.3 277.4,247.0 278.1,247.7 278.8,248.4 279.5,249.0 280.2,249.6 280.9,250.1 281.8,250.9 282.8,251.7 283.7,252.4 284.6,253.1 285.5,253.8 286.3,254.4 287.2,254.9 288.1,255.3 289.0,255.6 289.9,255.8 290.8,255.8 291.6,255.6 292.4,255.3 293.3,254.8 294.1,254.3 295.0,253.6 295.8,252.9 296.6,252.1 297.5,251.3 298.3,250.6 299.1,249.9 299.9,249.2 300.7,248.7 301.7,248.1 302.6,247.6 303.5,247.2 304.4,246.8 305.3,246.4 306.2,246.0 307.1,245.5 308.1,245.0 309.2,244.5 309.9,244.0 310.7,243.5 311.6,243.0 312.4,242.4 313.3,241.8 314.2,241.2 315.1,240.6 316.0,240.0 316.9,239.5 317.8,238.9 318.7,238.4 319.6,237.9 320.5,237.4 321.4,236.9 322.3,236.5 323.2,236.1 324.1,235.8 325.0,235.4 326.0,235.1 326.9,234.8 327.8,234.5 328.8,234.1 329.7,233.8 330.7,233.5 331.8,233.2 332.7,232.9 333.7,232.5 334.7,232.2 335.7,231.9 336.7,231.6 337.8,231.3 338.9,231.0 339.9,230.7 341.0,230.4 342.0,230.1 343.0,229.8 344.0,229.5 345.0,229.2 345.9,228.9 347.0,228.5 348.0,228.1 349.0,227.7 350.0,227.3 351.0,226.9 351.9,226.4 352.9,226.0 353.8,225.7 354.7,225.3 355.6,225.0 356.4,224.8 357.2,224.7 358.4,224.5 359.5,224.5 360.5,224.5 361.5,224.7 362.5,224.9 363.5,225.2 364.6,225.6 365.7,226.1 366.5,226.5 367.4,226.9 368.3,227.4 369.2,228.0 370.1,228.6 371.1,229.2 372.0,229.9 373.0,230.5 373.9,231.1 374.8,231.7 375.6,232.3 376.3,232.7 377.0,233.2 378.3,233.6 379.2,233.7 379.9,233.6 380.7,233.7 381.6,234.3 382.8,235.7 383.2,236.2 383.6,236.8 384.1,237.5 384.5,238.2 385.0,239.0 385.5,239.8 386.0,240.7 386.5,241.6 387.1,242.5 387.6,243.5 388.1,244.5 388.7,245.5 389.2,246.5 389.8,247.5 390.4,248.6 390.9,249.6 391.5,250.6 392.0,251.6 392.6,252.6 393.1,253.6 393.6,254.5 394.1,255.5 394.7,256.4 395.2,257.3 395.7,258.2 396.2,259.1 396.7,260.0 397.2,260.9 397.7,261.8 398.3,262.7 398.8,263.6 399.3,264.5 399.8,265.4 400.3,266.3 400.8,267.2 401.3,268.1 401.9,269.0 402.4,269.9 402.9,270.8 403.4,271.7 403.9,272.6 404.4,273.5 404.9,274.4 405.5,275.3 406.0,276.2 406.5,277.1 407.1,278.1 407.6,279.0 408.2,280.0 408.7,281.0 409.3,282.0 409.9,283.0 410.5,284.0 411.0,285.0 411.6,286.0 412.1,287.0 412.7,287.9 413.2,288.8 413.7,289.7 414.2,290.6 414.7,291.5 415.2,292.3 415.6,293.0 416.0,293.8 416.4,294.4 416.8,295.1 417.7,296.6 418.3,297.6 418.7,298.2 419.0,298.7 419.4,299.3 419.9,300.2 420.7,301.7 421.1,302.3 421.5,303.0 421.9,303.7 422.3,304.5 422.7,305.3 423.2,306.1 423.7,307.0 424.2,307.9 424.7,308.8 425.2,309.7 425.7,310.7 426.2,311.6 426.8,312.6 427.3,313.6 427.8,314.6 428.4,315.5 428.9,316.5 429.4,317.5 429.9,318.5 430.4,319.4 430.9,320.4 431.4,321.3 431.9,322.2 432.3,323.1 432.8,324.1 433.2,325.0 433.7,326.0 434.2,327.0 434.6,327.9 435.1,328.9 435.6,329.9 436.0,330.9 436.5,331.8 437.0,332.8 437.4,333.8 437.9,334.7 438.3,335.6 438.8,336.5 439.3,337.4 439.7,338.3 440.2,339.1 440.7,340.0 441.1,340.7 441.8,341.8 442.4,342.8 443.0,343.8 443.7,344.7 444.3,345.6 444.9,346.5 445.6,347.3 446.2,348.2 446.9,349.0 447.5,349.8 448.1,350.6 448.8,351.3 449.4,352.1 450.0,352.8 450.7,353.6 451.3,354.3 452.0,355.2 452.8,356.0 453.6,356.9 454.3,357.7 455.1,358.5 455.9,359.3 456.6,360.1 457.4,360.9 458.1,361.6 458.8,362.3 459.5,362.9 460.2,363.5 460.9,364.0 461.5,364.5 462.6,365.4 463.7,366.1 464.6,366.7 465.6,367.1 466.4,367.3 467.3,367.3 468.3,367.1 469.0,366.7 469.7,366.2 470.4,365.6 471.1,364.9 471.8,364.0 472.5,363.2 473.2,362.2 473.8,361.3 474.5,360.3 475.1,359.4 475.6,358.7 476.0,358.0 476.3,357.4 476.7,356.7 477.0,356.1 477.3,355.3 477.7,354.5 478.1,353.5 478.7,352.3 479.3,350.9 480.0,349.2 480.3,348.6 480.6,347.9 480.9,347.2 481.2,346.4 481.6,345.7 481.9,344.8 482.3,344.0 482.7,343.1 483.1,342.2 483.5,341.3 483.9,340.4 484.3,339.4 484.7,338.4 485.1,337.4 485.6,336.4 486.0,335.4 486.4,334.4 486.9,333.4 487.3,332.4 487.7,331.3 488.2,330.3 488.6,329.3 489.1,328.3 489.5,327.3 489.9,326.3 490.4,325.3 490.8,324.3 491.2,323.4 491.6,322.4 492.0,321.5 492.4,320.6 492.8,319.7 493.2,318.7 493.7,317.7 494.1,316.7 494.5,315.8 495.0,314.8 495.4,313.9 495.8,312.9 496.2,312.0 496.7,311.0 497.1,310.1 497.5,309.2 497.9,308.3 498.3,307.4 498.7,306.5 499.1,305.6 499.6,304.6 500.0,303.7 500.4,302.8 500.8,301.9 501.2,301.0 501.6,300.0 502.0,299.1 502.4,298.2 502.8,297.2 503.3,296.2 503.7,295.3 504.1,294.3 504.5,293.4 504.9,292.5 505.2,291.5 505.6,290.6 506.0,289.6 506.4,288.7 506.8,287.7 507.2,286.7 507.6,285.7 508.0,284.7 508.4,283.7 508.8,282.8 509.1,281.8 509.5,280.8 509.9,279.8 510.3,278.8 510.7,277.8 511.1,276.8 511.5,275.9 511.8,274.9 512.2,273.9 512.6,273.0 513.0,272.1 513.3,271.1 513.7,270.2 514.0,269.4 514.4,268.5 514.7,267.6 515.1,266.8 515.4,266.0 515.9,264.8 516.3,263.7 516.8,262.6 517.2,261.6 517.6,260.5 518.0,259.5 518.4,258.4 518.8,257.4 519.2,256.5 519.6,255.5 520.0,254.6 520.4,253.6 520.8,252.7 521.2,251.8 521.6,251.0 521.9,250.1 522.3,249.3 522.7,248.5 523.1,247.7 523.5,246.9 523.9,246.2 524.5,245.1 525.1,244.1 525.7,243.1 526.2,242.2 526.8,241.4 527.4,240.6 528.0,239.8 528.5,239.1 529.1,238.4 529.7,237.6 530.4,237.0 531.0,236.3 531.7,235.6 532.4,234.9 533.1,234.2 533.9,233.4 534.8,232.7 535.7,232.0 536.6,231.3 537.6,230.6 538.5,229.9 539.4,229.3 540.3,228.7 541.1,228.1 541.9,227.6 542.6,227.1 543.2,226.7 543.7,226.4 545.1,226.1 545.8,226.2 546.6,226.3 547.5,226.4 548.5,226.5 549.6,226.6 550.8,226.7 551.9,226.9 553.1,227.2 554.2,227.5 555.3,227.8 556.2,228.2 557.1,228.6 558.1,229.1 559.0,229.6 559.9,230.2 560.8,230.8 561.8,231.4 562.7,232.0 563.6,232.6 564.5,233.2 565.5,233.8 566.3,234.3 567.2,234.8 568.0,235.4 568.9,235.9 569.7,236.5 570.6,237.1 571.4,237.6 572.3,238.2 573.1,238.8 574.0,239.4 574.8,240.0 575.7,240.6 576.5,241.2 577.4,241.8 578.2,242.4 579.1,243.0 580.0,243.7 580.9,244.3 581.7,245.0 582.6,245.6 583.4,246.3 584.2,246.9 585.1,247.6 585.8,248.2 586.7,248.9 587.5,249.6 588.3,250.3 589.1,251.0 589.8,251.7 590.6,252.4 591.3,253.1 592.1,253.8 592.8,254.5 593.6,255.2 594.3,255.8 595.2,256.6 596.1,257.3 596.9,258.0 597.8,258.7 598.7,259.3 599.5,260.0 600.4,260.7 601.2,261.3 602.0,262.0 602.8,262.6 603.7,263.4 604.5,264.1 605.3,264.9 606.0,265.6 606.8,266.3 607.5,267.0 608.2,267.6 608.9,268.1 609.6,268.6 610.7,269.1 611.8,269.3 612.7,269.4 613.7,269.4 614.7,269.4 615.7,269.5 616.7,269.5 617.8,269.5 618.8,269.5 619.8,269.4 620.8,269.3 621.8,269.2 622.7,269.1 623.8,268.9 624.9,268.6 625.8,268.3 626.7,268.0 627.6,267.7 628.6,267.3 629.6,266.9 630.6,266.5 631.7,266.0 632.5,265.6 633.5,265.2 634.4,264.8 635.4,264.3 636.3,263.8 637.3,263.3 638.2,262.9 639.1,262.6 640.0,262.3 641.2,261.9 642.4,261.6 643.6,261.4 644.7,261.4 645.8,261.5 646.8,261.8 647.6,262.3 648.4,263.1 649.1,264.0 649.8,265.0 650.5,266.0 651.2,267.0 651.9,267.7 652.7,268.5 653.5,269.2 654.3,269.8 655.2,270.3 656.0,270.8 657.0,271.1 658.0,271.3 659.1,271.3 660.3,271.2 661.4,271.1 662.6,271.0 663.8,271.1 664.8,271.4 665.8,271.7 666.8,272.1 667.8,272.6 668.7,273.0 669.7,273.4 670.6,273.7 671.7,274.0 672.7,274.3 673.7,274.6 674.7,274.6 675.7,274.5 676.5,274.2 677.3,273.7 678.1,273.1 678.9,272.5 679.8,271.8 680.7,271.1 681.5,270.6 682.3,270.0 683.2,269.4 684.0,268.8 684.9,268.3 685.8,267.7 686.7,267.2 687.5,266.9 688.7,266.5 689.8,266.3 690.9,266.1 692.1,266.1 693.2,266.0 694.3,266.0 695.5,266.1 696.6,266.2 697.7,266.4 698.9,266.6 700.0,266.8 701.1,266.9 702.3,266.9 703.4,266.8 704.5,266.8 705.6,266.7 706.8,266.7 707.9,266.9 708.9,267.1 709.9,267.5 710.8,267.9 711.8,268.3 712.8,268.7 713.7,269.1 714.7,269.4 715.8,269.7 717.0,269.8 718.1,270.0 719.2,270.1 720.4,270.1 721.5,270.3 722.6,270.5 723.8,270.7 724.9,271.0 726.0,271.2 727.2,271.3 728.3,271.1 729.1,270.8 730.0,270.4 730.9,269.9 731.8,269.3 732.7,268.7 733.5,268.1 734.3,267.4 735.1,266.9 736.0,266.2 736.8,265.5 737.6,264.8 738.4,264.1 739.2,263.4 740.0,262.6 740.7,261.9 741.4,261.2 742.1,260.5 742.8,259.8 743.6,259.0 744.4,258.3 745.4,257.5 746.1,256.9 746.8,256.4 747.6,255.8 748.4,255.2 749.2,254.6 750.1,254.0 751.0,253.4 751.9,252.9 752.9,252.3 753.8,251.8 754.7,251.4 755.6,251.0 756.5,250.6 757.5,250.2 758.5,249.8 759.5,249.5 760.5,249.1 761.5,248.7 762.5,248.4 763.4,248.1 764.3,247.8 765.2,247.6 766.4,247.3 767.5,247.2 768.6,247.1 769.7,247.0 770.8,246.9 771.7,246.8 772.7,246.6 773.6,246.2 774.5,245.7 775.2,245.1 775.9,244.5 776.5,243.8 777.2,243.0 778.0,242.2 778.8,241.1 779.8,240.0 780.3,239.4 780.9,238.7 781.5,238.0 782.1,237.2 782.8,236.4 783.4,235.5 784.1,234.7 784.8,233.8 785.5,232.9 786.2,232.0 786.9,231.1 787.6,230.3 788.3,229.5 789.1,228.7 789.8,228.0 790.4,227.3 791.1,226.7 792.1,226.0 793.0,225.3 793.9,224.8 794.9,224.3 795.8,223.8 796.8,223.4 797.7,223.0 798.7,222.6 799.6,222.3 800.5,221.9 801.5,221.5 802.4,221.0 803.4,220.6 804.3,220.2 805.3,219.8 806.2,219.4 807.1,219.0 808.1,218.6 809.0,218.1 810.0,217.7 810.9,217.2 811.9,216.7 812.8,216.1 813.7,215.4 814.5,214.8 815.2,214.2 815.9,213.6 816.6,213.0 817.4,212.3 818.1,211.6 818.9,210.8 819.6,210.1 820.3,209.3 821.0,208.6 821.7,207.8 822.4,207.0 823.1,206.3 823.8,205.5 824.4,204.8 825.1,204.1 825.8,203.3 826.4,202.5 827.1,201.8 827.7,201.0 828.3,200.3 828.9,199.5 829.5,198.8 830.1,198.0 830.6,197.2 831.2,196.4 831.8,195.6 832.4,194.7 833.0,193.7 833.6,192.8 834.0,191.9 834.5,191.1 835.0,190.2 835.4,189.2 835.9,188.2 836.4,187.2 836.9,186.2 837.3,185.1 837.8,184.1 838.3,183.1 838.7,182.0 839.2,181.0 839.7,180.0 840.2,179.1 840.6,178.2 841.1,177.3 841.6,176.5 842.0,175.8 842.7,174.8 843.4,173.8 844.1,172.9 844.8,172.1 845.4,171.4 846.1,170.7 846.8,170.0 847.5,169.4 848.2,168.8 848.9,168.3 849.7,167.8 850.5,167.3 851.5,166.8 852.4,166.4 853.5,166.1 854.5,165.9 855.6,165.6 856.7,165.4 857.8,165.3 858.9,165.1 859.9,164.9 860.9,164.7 861.8,164.5 863.0,164.1 864.2,163.8 865.2,163.5 866.3,163.2 867.3,162.9 868.3,162.5 869.3,162.1 870.3,161.6 871.2,161.2 872.0,160.7 872.9,160.2 873.7,159.6 874.6,159.1 875.4,158.5 876.3,157.9 877.1,157.3 878.0,156.6 878.8,156.0 879.6,155.4 880.4,154.7 881.1,154.0 881.9,153.3 882.7,152.5 883.4,151.8 884.2,151.1 885.0,150.5 885.8,149.9 886.5,149.3 887.3,148.9 888.4,148.4 889.4,148.1 890.5,147.8 891.5,147.7 892.6,147.6 893.7,147.5 894.7,147.5 895.8,147.5 896.8,147.5 897.9,147.6 899.0,147.8 900.0,147.9 901.1,148.2 902.1,148.4 903.2,148.6 904.3,148.9 905.3,149.2 906.4,149.6 907.5,149.9 908.5,150.3 909.6,150.7 910.6,151.1 911.7,151.4 912.8,151.7 913.8,152.1 914.9,152.4 915.9,152.8 917.0,153.2 918.1,153.4 919.1,153.5 920.2,153.5 921.2,153.2 922.0,152.8 922.8,152.2 923.6,151.5 924.4,150.7 925.2,149.9 926.0,149.0 926.8,148.1 927.5,147.2 928.2,146.4 928.8,145.7 929.3,145.1 929.7,144.7" fill="none" stroke="#ffff00" stroke-width="1" shape-rendering="crispEdges"/><polyline points="7.2,462.4 7.8,462.1 8.5,461.8 9.4,461.3 10.4,460.8 11.4,460.2 12.5,459.6 13.5,459.0 14.4,458.4 15.3,457.8 16.1,457.1 17.0,456.3 17.7,455.5 18.5,454.7 19.2,453.9 19.9,453.1 20.6,452.2 21.2,451.4 21.8,450.6 22.4,449.8 23.0,449.0 23.6,448.2 24.1,447.4 24.6,446.5 25.0,445.6 25.5,444.6 25.8,443.8 26.0,443.0 26.2,442.2 26.3,441.4 26.5,440.6 26.7,439.6 26.9,438.6 27.1,437.5 27.4,436.1 27.8,434.7 28.0,433.9 28.2,433.1 28.4,432.3 28.7,431.5 28.9,430.6 29.2,429.6 29.5,428.7 29.8,427.7 30.0,426.7 30.3,425.7 30.6,424.7 30.9,423.6 31.3,422.6 31.6,421.5 31.9,420.4 32.2,419.4 32.5,418.3 32.8,417.2 33.1,416.1 33.4,415.0 33.7,413.9 34.0,412.9 34.2,412.0 34.5,411.0 34.7,410.2 35.0,409.3 35.2,408.4 35.5,407.5 35.7,406.7 36.0,405.8 36.2,405.0 36.5,404.1 36.7,403.2 36.9,402.3 37.2,401.4 37.4,400.4 37.7,399.5 37.9,398.5 38.2,397.5 38.4,396.5 38.7,395.4 38.9,394.3 39.2,393.1 39.4,391.9 39.7,390.6 40.0,389.3 40.2,388.0 40.4,387.2 40.5,386.4 40.7,385.5 40.8,384.6 41.0,383.7 41.1,382.8 41.3,381.8 41.4,380.9 41.6,379.9 41.8,378.8 41.9,377.8 42.1,376.8 42.2,375.7 42.4,374.6 42.6,373.6 42.7,372.5 42.9,371.4 43.0,370.3 43.2,369.2 43.4,368.0 43.5,366.9 43.7,365.8 43.8,364.7 44.0,363.6 44.2,362.5 44.3,361.4 44.5,360.2 44.6,359.2 44.8,358.1 45.0,357.0 45.1,355.9 45.3,354.9 45.4,353.8 45.6,352.8 45.7,351.8 45.9,350.8 46.0,349.9 46.2,348.9 46.3,348.0 46.5,347.1 46.6,346.2 46.8,345.4 46.9,344.6 47.0,343.8 47.3,342.4 47.5,341.1 47.8,339.8 48.0,338.6 48.3,337.5 48.5,336.4 48.7,335.4 49.0,334.4 49.2,333.4 49.4,332.5 49.6,331.5 49.8,330.7 50.1,329.8 50.3,328.9 50.5,328.1 50.7,327.2 50.9,326.4 51.1,325.5 51.3,324.7 51.5,323.8 51.7,322.9 51.9,321.9 52.1,321.0 52.3,320.0 52.5,319.0 52.7,318.1 52.9,317.1 53.1,316.2 53.2,315.3 53.4,314.5 53.5,313.6 53.7,312.7 53.8,311.9 54.0,311.0 54.1,310.1 54.3,309.2 54.4,308.3 54.6,307.4 54.7,306.4 54.9,305.4 55.1,304.3 55.2,303.2 55.4,302.1 55.6,300.9 55.9,299.6 56.1,298.3 56.3,296.9 56.6,295.4 56.7,294.6 56.8,293.8 57.0,293.0 57.1,292.1 57.3,291.2 57.4,290.3 57.6,289.4 57.7,288.5 57.9,287.5 58.1,286.5 58.2,285.5 58.4,284.5 58.6,283.4 58.7,282.4 58.9,281.3 59.1,280.2 59.3,279.1 59.4,278.0 59.6,276.9 59.8,275.8 60.0,274.7 60.2,273.6 60.4,272.4 60.6,271.3 60.7,270.2 60.9,269.1 61.1,267.9 61.3,266.8 61.5,265.7 61.7,264.6 61.9,263.5 62.1,262.4 62.3,261.3 62.5,260.3 62.7,259.2 62.8,258.2 63.0,257.2 63.2,256.2 63.4,255.2 63.6,254.2 63.8,253.2 64.0,252.3 64.2,251.4 64.3,250.5 64.5,249.7 64.7,248.9 64.9,248.1 65.1,247.3 65.4,245.9 65.8,244.5 66.1,243.2 66.5,241.9 66.8,240.7 67.2,239.5 67.5,238.3 67.9,237.2 68.2,236.1 68.6,235.1 69.0,234.1 69.3,233.1 69.7,232.2 70.0,231.3 70.4,230.4 70.7,229.6 71.0,228.8 71.4,228.0 71.7,227.2 72.0,226.5 72.4,225.8 72.7,225.1 73.0,224.5 73.3,223.9 73.6,223.3 74.4,221.6 75.1,220.3 75.8,219.4 76.4,218.7 77.0,218.3 77.7,218.0 78.4,217.8 79.2,217.6 80.1,217.5 81.1,217.6 82.2,217.8 83.3,218.2 84.4,218.7 85.5,219.2 86.6,219.8 87.7,220.4 88.5,220.9 89.2,221.5 90.0,222.1 90.8,222.8 91.6,223.5 92.3,224.2 93.1,225.0 93.9,225.7 94.6,226.3 95.4,226.9 96.2,227.5 97.1,228.1 98.1,228.6 99.0,229.0 100.0,229.4 100.9,229.8 101.8,230.2 102.8,230.7 103.7,231.2 104.7,231.7 105.5,232.3 106.3,233.0 107.1,233.7 107.9,234.4 108.7,235.2 109.5,236.0 110.3,236.7 111.1,237.4 111.8,238.0 112.5,238.5 113.2,238.8 114.4,239.2 115.4,239.2 116.3,238.9 117.3,238.4 118.5,237.9 119.3,237.6 120.1,237.2 121.0,236.8 122.0,236.4 122.9,235.9 123.9,235.4 124.9,234.8 125.9,234.3 127.0,233.7 127.8,233.2 128.6,232.8 129.4,232.4 130.2,232.0 131.1,231.6 132.0,231.2 132.8,230.7 133.7,230.1 134.6,229.5 135.4,228.7 136.3,227.9 137.2,226.9 137.6,226.2 138.1,225.6 138.6,224.8 139.1,224.1 139.6,223.2 140.1,222.4 140.6,221.5 141.0,220.6 141.5,219.7 142.0,218.8 142.5,217.8 143.0,216.8 143.5,215.8 144.0,214.9 144.4,213.9 144.9,212.9 145.4,211.9 145.9,211.0 146.4,210.0 146.9,209.1 147.4,208.2 147.8,207.3 148.3,206.4 148.8,205.5 149.3,204.5 149.9,203.6 150.4,202.7 150.9,201.7 151.4,200.8 151.9,199.8 152.4,198.9 152.9,198.0 153.4,197.0 153.9,196.1 154.4,195.2 154.9,194.4 155.3,193.5 155.8,192.6 156.3,191.8 156.7,191.0 157.1,190.3 157.5,189.5 158.2,188.4 158.8,187.2 159.4,186.2 159.9,185.1 160.5,184.1 161.0,183.1 161.5,182.2 162.0,181.3 162.5,180.5 162.9,179.7 163.4,179.0 163.9,178.3 164.3,177.6 165.2,176.5 166.0,175.6 166.8,174.9 167.5,174.3 168.4,173.9 169.4,173.4 170.3,173.0 171.3,172.7 172.4,172.5 173.6,172.3 174.7,172.1 175.8,171.9 176.9,171.8 177.9,171.7 179.2,171.6 180.4,171.4 181.6,171.4 182.8,171.4 183.8,171.5 184.7,171.7 185.7,172.3 186.4,173.2 187.1,174.2 188.1,175.1 188.9,175.5 189.8,175.9 190.9,176.3 191.9,176.6 193.0,177.0 194.0,177.3 194.9,177.6 196.0,178.0 197.0,178.3 198.0,178.6 199.0,178.9 200.0,179.3 200.8,179.9 201.7,180.5 202.5,181.2 203.4,181.9 204.2,182.4 205.1,182.7 206.1,182.7 207.2,182.3 208.3,181.8 209.2,181.4 210.0,181.0 211.6,180.8 211.9,181.3 212.2,181.9 212.6,182.6 213.1,183.4 213.5,184.2 214.0,185.1 214.5,186.1 215.0,187.1 215.6,188.2 216.1,189.2 216.7,190.3 217.3,191.4 218.0,192.5 218.6,193.6 219.1,194.3 219.6,195.1 220.1,195.8 220.7,196.6 221.2,197.4 221.8,198.2 222.4,199.0 223.0,199.8 223.6,200.6 224.2,201.4 224.8,202.3 225.4,203.1 226.0,204.0 226.6,204.9 227.2,205.8 227.8,206.7 228.4,207.6 228.9,208.6 229.4,209.5 229.9,210.5 230.4,211.4 230.8,212.2 231.2,213.1 231.5,214.0 231.9,215.0 232.3,215.9 232.7,216.9 233.0,217.9 233.4,218.8 233.8,219.8 234.1,220.8 234.5,221.8 234.8,222.8 235.1,223.8 235.5,224.8 235.8,225.8 236.1,226.8 236.5,227.8 236.8,228.7 237.1,229.6 237.5,230.6 237.8,231.4 238.1,232.3 238.4,233.2 238.9,234.2 239.3,235.3 239.7,236.3 240.1,237.3 240.5,238.3 240.9,239.3 241.4,240.2 241.8,241.2 242.1,242.1 242.5,243.0 242.9,243.9 243.3,244.8 243.7,245.7 244.1,246.6 244.4,247.4 244.8,248.3 245.1,249.2 245.5,250.1 245.9,251.2 246.3,252.3 246.6,253.4 246.9,254.6 247.2,255.8 247.5,257.0 247.8,258.2 248.2,259.3 248.5,260.4 248.8,261.5 249.1,262.4 249.5,263.3 249.9,264.1 250.3,264.8 250.7,265.3 251.2,265.7 251.9,265.9 252.7,265.9 253.5,265.5 254.4,265.0 255.3,264.2 256.2,263.4 257.2,262.6 258.1,261.7 259.1,261.0 260.1,260.4 261.1,260.0 262.0,259.8 263.1,259.8 264.1,259.8 265.2,259.9 266.3,260.0 267.3,260.2 268.4,260.3 269.5,260.4 270.5,260.4 271.5,260.3 272.4,260.0 273.3,259.6 274.1,259.2 274.9,258.6 275.7,257.9 276.4,257.2 277.2,256.5 277.9,255.7 278.6,255.0 279.4,254.3 280.1,253.6 280.9,253.0 281.7,252.3 282.6,251.7 283.4,251.2 284.3,250.6 285.1,250.0 286.0,249.5 286.8,249.0 287.7,248.4 288.5,247.9 289.4,247.3 290.2,246.7 291.1,246.1 291.9,245.5 292.8,244.8 293.7,244.2 294.5,243.6 295.4,243.0 296.2,242.5 297.0,242.0 297.8,241.6 298.9,241.3 300.0,241.1 301.0,241.0 302.1,241.0 303.0,240.9 304.0,240.7 304.9,240.2 305.6,239.7 306.2,239.1 306.8,238.5 307.4,237.8 308.0,237.0 308.6,236.1 309.2,235.2 309.9,234.2 310.6,233.2 311.0,232.4 311.5,231.5 312.0,230.6 312.5,229.6 313.0,228.6 313.6,227.6 314.1,226.5 314.6,225.5 315.2,224.5 315.7,223.5 316.2,222.6 316.7,221.8 317.2,221.0 317.6,220.4 318.6,219.3 319.4,218.5 320.2,217.9 321.0,217.6 322.0,217.5 323.3,217.6 324.1,217.7 324.9,217.9 325.8,218.3 326.8,218.6 327.8,219.1 328.8,219.5 329.8,220.0 330.8,220.5 331.9,220.9 332.8,221.3 333.8,221.6 334.6,221.8 335.8,222.1 337.0,222.2 338.1,222.3 339.1,222.4 340.1,222.3 341.1,222.2 342.1,222.1 343.1,221.8 344.1,221.4 345.0,220.8 345.9,220.1 346.7,219.4 347.6,218.6 348.4,218.1 349.3,217.7 350.2,217.6 351.0,217.8 351.7,218.1 352.5,218.6 353.2,219.3 354.0,220.0 354.8,220.8 355.6,221.6 356.4,222.4 357.2,223.3 357.9,223.9 358.5,224.5 359.2,225.2 359.9,225.9 360.5,226.6 361.2,227.3 361.9,228.1 362.6,228.8 363.4,229.6 364.1,230.3 364.9,231.0 365.7,231.7 366.5,232.4 367.3,233.0 368.1,233.6 369.0,234.3 369.9,235.0 370.8,235.6 371.7,236.3 372.6,236.9 373.5,237.5 374.3,238.1 375.1,238.7 375.8,239.3 376.5,239.8 377.0,240.2 378.3,241.4 378.9,242.2 379.3,243.0 380.0,244.1 380.5,244.8 381.0,245.4 381.5,246.0 382.1,246.7 382.7,247.4 383.3,248.2 383.9,249.1 384.5,250.1 385.1,251.3 385.7,252.6 385.9,253.4 386.2,254.1 386.5,254.9 386.7,255.8 387.0,256.7 387.3,257.6 387.5,258.5 387.8,259.5 388.0,260.5 388.3,261.5 388.6,262.5 388.8,263.6 389.1,264.6 389.4,265.7 389.7,266.8 390.0,267.9 390.3,269.0 390.6,270.2 391.0,271.3 391.3,272.4 391.6,273.3 391.9,274.3 392.2,275.2 392.5,276.3 392.9,277.3 393.2,278.4 393.6,279.5 393.9,280.6 394.3,281.7 394.7,282.8 395.0,283.9 395.4,285.0 395.8,286.2 396.1,287.3 396.5,288.4 396.9,289.4 397.2,290.5 397.6,291.5 397.9,292.4 398.2,293.4 398.5,294.3 398.8,295.1 399.1,295.9 399.3,296.6 399.6,297.3 399.8,297.9 400.7,300.0 401.0,300.2 401.3,300.2 402.1,301.7 402.3,302.3 402.6,303.0 402.9,303.8 403.2,304.7 403.5,305.6 403.9,306.6 404.2,307.6 404.6,308.6 405.0,309.7 405.4,310.8 405.8,311.9 406.2,313.0 406.6,314.1 407.0,315.2 407.4,316.3 407.7,317.4 408.1,318.4 408.5,319.4 408.9,320.4 409.2,321.4 409.6,322.3 410.0,323.3 410.4,324.3 410.7,325.2 411.1,326.2 411.5,327.1 411.9,328.0 412.3,329.0 412.6,329.9 413.0,330.8 413.4,331.8 413.8,332.7 414.1,333.6 414.5,334.5 414.9,335.5 415.3,336.4 415.7,337.4 416.0,338.3 416.4,339.3 416.8,340.2 417.2,341.2 417.5,342.2 417.9,343.1 418.3,344.1 418.7,345.1 419.0,346.1 419.4,347.0 419.8,348.0 420.2,348.9 420.6,349.9 420.9,350.8 421.3,351.7 421.7,352.6 422.1,353.5 422.4,354.3 422.9,355.3 423.4,356.4 423.8,357.4 424.3,358.3 424.7,359.3 425.2,360.3 425.6,361.2 426.1,362.2 426.5,363.1 427.0,364.0 427.4,364.8 427.9,365.6 428.3,366.4 428.8,367.2 429.2,367.9 429.9,368.9 430.6,369.9 431.3,370.8 432.0,371.6 432.7,372.4 433.4,373.1 434.1,373.8 434.8,374.4 435.4,375.0 436.0,375.6 437.0,376.4 437.8,377.1 438.6,377.7 439.4,378.2 440.2,378.6 441.1,378.9 442.2,379.3 443.3,379.5 444.4,379.7 445.6,379.9 446.8,379.9 447.9,379.8 448.9,379.6 449.9,379.3 450.8,378.9 451.8,378.5 452.8,378.1 453.7,377.6 454.7,377.2 455.7,376.9 456.7,376.6 457.7,376.3 458.7,376.0 459.7,375.6 460.6,375.2 461.5,374.7 462.3,374.2 463.1,373.6 463.8,373.0 464.5,372.3 465.2,371.5 465.9,370.6 466.6,369.6 467.1,368.9 467.5,368.1 468.0,367.3 468.4,366.5 468.9,365.6 469.4,364.7 469.8,363.7 470.3,362.7 470.8,361.7 471.2,360.6 471.7,359.4 472.0,358.6 472.3,357.8 472.7,356.9 473.0,356.0 473.3,355.1 473.7,354.2 474.0,353.3 474.3,352.3 474.7,351.3 475.0,350.3 475.3,349.3 475.6,348.3 475.9,347.3 476.2,346.2 476.5,345.2 476.8,344.1 477.0,343.2 477.2,342.2 477.4,341.2 477.6,340.2 477.8,339.2 477.9,338.1 478.1,337.1 478.3,336.0 478.4,334.9 478.6,333.8 478.8,332.8 478.9,331.7 479.1,330.6 479.2,329.6 479.4,328.5 479.6,327.5 479.8,326.5 480.0,325.5 480.2,324.5 480.4,323.6 480.6,322.8 480.8,322.1 481.0,321.4 481.2,320.7 481.3,320.0 481.5,319.3 481.7,318.6 482.0,317.8 482.2,316.9 482.5,315.9 482.8,314.7 483.1,313.4 483.5,312.0 483.9,310.3 484.3,308.4 484.4,307.7 484.6,307.1 484.8,306.3 484.9,305.6 485.1,304.8 485.3,304.0 485.5,303.2 485.6,302.3 485.8,301.5 486.0,300.6 486.2,299.7 486.4,298.7 486.6,297.8 486.8,296.8 487.0,295.9 487.3,294.9 487.5,293.9 487.7,292.9 487.9,291.8 488.1,290.8 488.4,289.7 488.6,288.7 488.8,287.6 489.0,286.5 489.3,285.5 489.5,284.4 489.7,283.3 490.0,282.2 490.2,281.1 490.5,280.0 490.7,278.9 490.9,277.8 491.2,276.7 491.4,275.6 491.7,274.5 491.9,273.4 492.1,272.4 492.4,271.3 492.6,270.2 492.8,269.2 493.1,268.1 493.3,267.1 493.6,266.1 493.8,265.0 494.0,264.0 494.3,263.1 494.5,262.1 494.7,261.1 494.9,260.2 495.2,259.3 495.4,258.4 495.6,257.5 495.9,256.4 496.2,255.3 496.4,254.2 496.7,253.1 497.0,252.0 497.3,250.9 497.5,249.9 497.8,248.8 498.1,247.7 498.4,246.7 498.6,245.6 498.9,244.6 499.2,243.5 499.5,242.5 499.7,241.5 500.0,240.4 500.3,239.4 500.6,238.4 500.8,237.4 501.1,236.4 501.4,235.4 501.7,234.5 502.0,233.5 502.2,232.5 502.5,231.6 502.8,230.7 503.1,229.7 503.3,228.8 503.6,227.9 503.9,227.0 504.2,226.1 504.4,225.2 504.7,224.4 505.0,223.5 505.3,222.7 505.5,221.9 505.8,221.0 506.1,220.2 506.4,219.4 506.6,218.7 506.9,217.9 507.4,216.7 507.8,215.5 508.3,214.3 508.8,213.1 509.3,212.0 509.7,210.9 510.2,209.8 510.7,208.8 511.2,207.7 511.6,206.7 512.1,205.8 512.6,204.8 513.1,203.9 513.5,203.0 514.0,202.2 514.5,201.3 514.9,200.6 515.4,199.8 515.8,199.0 516.2,198.3 516.7,197.7 517.1,197.0 517.5,196.4 517.9,195.8 518.2,195.3 519.3,193.7 520.2,192.4 521.1,191.5 521.9,190.8 522.6,190.4 523.4,190.3 524.3,190.5 525.3,191.0 525.8,191.4 526.3,191.9 526.9,192.5 527.4,193.2 528.0,194.0 528.6,194.8 529.2,195.8 529.8,196.7 530.4,197.7 531.0,198.8 531.6,199.8 532.2,200.9 532.7,201.9 533.3,202.9 533.8,203.9 534.3,204.9 534.8,205.8 535.2,206.6 535.7,207.6 536.2,208.7 536.6,209.6 537.0,210.6 537.3,211.5 537.6,212.5 537.9,213.4 538.2,214.3 538.5,215.3 538.9,216.2 539.2,217.2 539.6,218.3 540.0,219.3 540.3,220.2 540.7,221.1 541.1,222.0 541.5,222.9 541.9,223.8 542.2,224.7 542.7,225.7 543.1,226.7 543.5,227.6 543.9,228.6 544.3,229.6 544.7,230.6 545.2,231.5 545.6,232.5 546.0,233.5 546.4,234.5 546.8,235.5 547.2,236.4 547.5,237.3 547.9,238.3 548.3,239.2 548.7,240.2 549.1,241.2 549.4,242.2 549.8,243.1 550.2,244.1 550.6,245.1 550.9,246.0 551.3,247.0 551.7,248.0 552.1,248.9 552.5,249.8 552.8,250.7 553.2,251.6 553.6,252.4 554.0,253.5 554.5,254.5 554.9,255.4 555.4,256.4 555.8,257.3 556.3,258.3 556.8,259.2 557.2,260.1 557.7,261.0 558.1,261.9 558.6,262.7 559.0,263.6 559.5,264.4 559.9,265.2 560.4,266.0 560.9,267.0 561.5,268.1 562.1,269.1 562.7,270.1 563.3,271.2 563.9,272.1 564.5,273.0 565.0,273.9 565.6,274.6 566.1,275.3 566.7,275.8 567.2,276.2 568.3,276.5 569.4,276.0 570.4,275.2 571.3,274.3 572.3,273.7 573.4,273.5 574.4,273.5 575.5,273.4 576.5,272.8 577.0,272.2 577.5,271.5 578.1,270.7 578.6,269.7 579.1,268.8 579.6,267.8 580.2,266.9 580.7,266.0 581.4,265.1 582.1,264.3 582.9,263.4 583.6,262.6 584.4,261.8 585.1,260.9 585.8,260.1 586.6,259.2 587.3,258.3 588.0,257.4 588.8,256.5 589.5,255.7 590.2,254.9 590.9,254.1 591.8,253.4 592.6,252.7 593.5,252.1 594.3,251.5 595.2,251.1 596.0,250.7 597.0,250.4 598.1,250.3 599.1,250.2 600.1,250.4 601.1,250.7 601.8,251.2 602.6,251.8 603.3,252.5 604.0,253.3 604.8,254.1 605.5,255.0 606.2,255.8 606.9,256.6 607.5,257.5 608.1,258.4 608.8,259.3 609.4,260.2 610.0,261.1 610.7,261.9 611.3,262.6 612.2,263.5 613.0,264.2 613.9,264.9 614.7,265.6 615.6,266.2 616.4,266.9 617.2,267.6 618.1,268.3 618.9,268.9 619.8,269.6 620.6,270.4 621.5,271.1 622.2,271.8 623.0,272.5 623.7,273.3 624.5,274.0 625.2,274.8 625.9,275.5 626.6,276.2 627.3,277.0 628.1,277.9 628.8,278.8 629.4,279.5 630.1,280.1 630.8,280.5 631.9,280.5 632.9,280.1 634.0,279.5 635.1,278.8 635.9,278.2 636.7,277.5 637.5,276.8 638.3,276.0 639.2,275.3 640.0,274.5 640.8,273.8 641.7,272.9 642.5,272.1 643.4,271.4 644.2,270.7 645.1,270.3 646.1,270.0 647.1,269.8 648.1,269.9 649.2,270.0 650.2,270.3 651.2,270.7 652.2,271.4 653.2,272.2 654.3,272.7 655.3,272.8 656.1,272.5 657.0,271.8 657.8,271.0 658.7,270.1 659.5,269.3 660.4,268.6 661.4,267.9 662.3,267.3 663.3,266.8 664.3,266.3 665.5,266.0 666.5,265.9 667.6,265.8 668.8,265.8 669.9,265.9 671.1,265.9 672.3,266.0 673.4,266.1 674.6,266.2 675.8,266.2 676.9,266.4 678.0,266.6 679.0,266.9 680.0,267.3 680.9,268.0 681.7,268.7 682.5,269.4 683.3,269.9 684.1,270.3 685.2,270.4 686.2,270.4 687.2,270.3 688.2,269.9 689.2,269.4 690.0,268.9 690.7,268.2 691.5,267.4 692.3,266.5 693.0,265.7 693.7,264.9 694.3,264.3 695.5,263.3 696.5,262.7 697.7,262.6 698.5,262.9 699.3,263.4 700.2,264.1 701.1,264.8 701.9,265.5 702.8,266.0 703.8,266.6 704.9,267.2 705.9,267.8 706.9,268.2 707.9,268.6 708.9,268.7 709.9,268.8 711.0,268.7 712.0,268.6 713.0,268.6 714.0,268.5 715.0,268.5 716.1,268.4 717.1,268.4 718.1,268.6 719.1,268.9 720.1,269.5 721.2,270.1 722.2,270.7 723.2,271.1 724.2,271.5 725.2,271.8 726.2,272.1 727.3,272.2 728.3,272.0 729.1,271.6 729.9,271.0 730.7,270.3 731.6,269.5 732.4,268.6 733.4,267.7 734.1,267.1 734.8,266.5 735.5,265.9 736.3,265.3 737.1,264.6 737.8,263.9 738.6,263.0 739.3,262.1 740.0,260.9 740.4,260.2 740.8,259.3 741.1,258.4 741.4,257.5 741.8,256.5 742.1,255.4 742.4,254.4 742.7,253.3 743.0,252.2 743.4,251.1 743.7,250.1 744.1,249.0 744.5,248.0 744.9,247.1 745.4,246.2 745.9,245.2 746.4,244.3 747.0,243.3 747.6,242.4 748.2,241.5 748.9,240.6 749.5,239.7 750.2,238.8 750.9,238.0 751.5,237.3 752.1,236.6 752.7,235.9 753.3,235.4 753.8,234.9 754.9,234.2 755.9,234.0 756.7,234.1 757.7,234.2 758.7,234.2 760.0,233.8 760.7,233.4 761.5,233.0 762.3,232.6 763.1,232.0 764.0,231.5 764.9,230.9 765.8,230.3 766.7,229.7 767.7,229.1 768.6,228.5 769.5,227.9 770.4,227.3 771.3,226.7 772.2,226.1 773.1,225.5 773.9,224.9 774.8,224.3 775.7,223.6 776.5,223.0 777.4,222.3 778.3,221.7 779.1,221.2 780.0,220.7 780.9,220.3 781.8,219.9 782.6,219.6 783.7,219.5 784.7,219.4 785.7,219.6 786.7,219.8 787.8,220.0 788.8,220.3 789.8,220.6 790.9,220.8 791.9,221.0 792.9,221.1 793.9,221.0 794.9,220.9 795.8,220.8 796.8,220.6 797.7,220.4 798.7,220.1 799.6,219.8 800.5,219.5 801.5,219.1 802.4,218.6 803.4,218.1 804.3,217.5 805.3,216.8 805.9,216.3 806.6,215.7 807.3,215.2 807.9,214.5 808.6,213.9 809.3,213.2 809.9,212.5 810.6,211.8 811.3,211.0 811.9,210.2 812.6,209.4 813.2,208.6 813.9,207.7 814.6,206.9 815.2,205.9 815.9,205.0 816.6,204.1 817.1,203.3 817.6,202.5 818.1,201.8 818.7,200.9 819.2,200.1 819.7,199.3 820.3,198.4 820.8,197.5 821.3,196.6 821.9,195.7 822.4,194.8 822.9,193.9 823.5,192.9 824.0,192.0 824.5,191.0 825.0,190.1 825.5,189.1 826.0,188.1 826.5,187.2 827.0,186.2 827.4,185.2 827.9,184.3 828.3,183.4 828.7,182.5 829.1,181.6 829.5,180.6 829.8,179.7 830.2,178.7 830.6,177.8 830.9,176.8 831.3,175.9 831.6,174.9 832.0,173.9 832.3,173.0 832.7,172.0 833.0,171.0 833.3,170.0 833.7,169.1 834.0,168.1 834.3,167.2 834.7,166.2 835.0,165.3 835.3,164.4 835.7,163.4 836.0,162.5 836.4,161.6 836.8,160.6 837.2,159.6 837.6,158.6 838.0,157.5 838.4,156.5 838.8,155.5 839.2,154.5 839.6,153.4 840.0,152.4 840.4,151.4 840.8,150.5 841.2,149.5 841.6,148.5 842.0,147.6 842.4,146.7 842.8,145.8 843.2,145.0 843.7,144.1 844.1,143.3 844.5,142.6 844.9,141.8 845.5,140.7 846.2,139.7 846.9,138.6 847.6,137.7 848.3,136.8 848.9,136.0 849.6,135.2 850.3,134.5 850.9,133.8 851.6,133.2 852.2,132.7 852.8,132.3 853.4,131.9 854.6,131.3 855.7,131.2 856.7,131.5 857.7,132.3 859.0,133.4 859.5,133.9 860.1,134.4 860.6,135.1 861.2,135.9 861.8,136.7 862.4,137.5 863.1,138.4 863.7,139.3 864.3,140.2 865.0,141.1 865.6,142.1 866.3,143.0 866.9,143.8 867.5,144.7 868.1,145.5 868.7,146.3 869.3,147.1 869.9,148.0 870.5,148.8 871.1,149.7 871.7,150.5 872.3,151.3 873.0,152.2 873.6,153.0 874.2,153.7 874.8,154.5 875.4,155.3 876.0,156.0 876.7,156.8 877.4,157.6 878.2,158.4 878.9,159.2 879.7,159.9 880.4,160.7 881.1,161.4 881.9,162.1 882.5,162.7 883.2,163.3 883.9,163.9 884.5,164.5 885.4,165.4 886.2,166.3 886.9,167.1 887.7,167.8 888.4,168.3 889.2,168.7 890.1,168.7 890.9,168.5 891.6,168.2 892.5,167.7 893.3,167.1 894.2,166.4 895.1,165.7 896.0,165.0 896.9,164.3 897.8,163.6 898.6,163.1 899.6,162.5 900.5,162.0 901.4,161.6 902.4,161.1 903.3,160.7 904.3,160.3 905.2,159.8 906.2,159.3 907.1,158.8 907.9,158.3 908.8,157.9 909.6,157.5 910.5,157.1 911.3,156.6 912.2,156.1 913.0,155.5 913.9,154.9 914.7,154.1 915.6,153.2 916.1,152.5 916.7,151.8 917.2,151.1 917.7,150.3 918.3,149.5 918.8,148.7 919.4,147.8 919.9,146.9 920.5,145.9 921.0,145.0 921.5,144.0 922.1,143.0 922.6,142.0 923.1,141.0 923.6,140.0 924.1,139.0 924.5,138.1 924.9,137.2 925.3,136.2 925.7,135.1 926.2,134.0 926.6,132.9 927.0,131.8 927.4,130.6 927.8,129.5 928.2,128.4 928.6,127.3 928.9,126.2 929.3,125.2 929.6,124.3 929.9,123.4 930.2,122.5 930.4,121.8 930.7,121.2 930.9,120.6" fill="none" stroke="#0000ff" stroke-width="1" shape-rendering="crispEdges"/><polyline points="5.9,454.0 6.2,453.3 6.4,452.4 6.7,451.3 7.0,450.1 7.4,448.9 7.9,447.7 8.5,446.6 9.3,445.7 10.2,445.0 11.0,444.8 11.9,444.6 12.9,444.6 14.1,444.6 15.3,444.7 16.5,444.8 17.8,445.0 19.0,445.1 20.2,445.2 21.3,445.3 22.2,445.3 23.1,445.2 23.8,445.0 24.8,444.3 25.3,443.1 25.4,441.7 25.4,440.4 25.4,439.3 25.5,438.7 25.7,440.3 26.2,440.9 26.4,440.4 26.6,439.9 26.9,439.3 27.1,438.7 27.4,438.0 27.7,437.2 28.0,436.4 28.3,435.5 28.6,434.5 29.0,433.4 29.3,432.3 29.6,431.0 30.0,429.7 30.3,428.4 30.6,426.9 30.9,425.3 31.0,424.6 31.1,423.8 31.3,423.1 31.4,422.3 31.5,421.5 31.6,420.6 31.8,419.8 31.9,418.9 32.0,418.0 32.1,417.1 32.2,416.2 32.3,415.3 32.5,414.3 32.6,413.3 32.7,412.4 32.8,411.4 32.9,410.3 33.0,409.3 33.2,408.3 33.3,407.2 33.4,406.2 33.5,405.1 33.7,404.0 33.8,403.0 33.9,401.9 34.1,400.8 34.2,399.7 34.3,398.6 34.5,397.4 34.6,396.3 34.8,395.2 34.9,394.1 35.1,392.9 35.2,391.8 35.4,390.7 35.6,389.5 35.7,388.7 35.8,387.8 36.0,386.9 36.1,386.1 36.2,385.2 36.4,384.4 36.5,383.5 36.7,382.7 36.8,381.8 37.0,381.0 37.1,380.1 37.3,379.3 37.4,378.5 37.6,377.6 37.7,376.8 37.9,375.9 38.0,375.1 38.2,374.2 38.3,373.3 38.5,372.4 38.7,371.6 38.8,370.7 39.0,369.7 39.2,368.8 39.3,367.9 39.5,366.9 39.7,366.0 39.8,365.0 40.0,364.0 40.2,363.0 40.3,362.0 40.5,360.9 40.7,359.9 40.9,358.8 41.0,357.7 41.2,356.5 41.4,355.4 41.6,354.2 41.7,353.0 41.9,351.8 42.1,350.5 42.3,349.2 42.5,347.9 42.6,346.5 42.8,345.2 43.0,343.8 43.1,343.0 43.2,342.2 43.3,341.4 43.4,340.5 43.5,339.7 43.6,338.8 43.7,337.9 43.8,337.1 43.9,336.1 44.1,335.2 44.2,334.3 44.3,333.3 44.4,332.4 44.5,331.4 44.6,330.4 44.7,329.4 44.8,328.4 45.0,327.4 45.1,326.3 45.2,325.3 45.3,324.2 45.4,323.2 45.5,322.1 45.7,321.0 45.8,320.0 45.9,318.9 46.0,317.8 46.1,316.7 46.2,315.6 46.4,314.4 46.5,313.3 46.6,312.2 46.7,311.1 46.8,309.9 47.0,308.8 47.1,307.7 47.2,306.5 47.3,305.4 47.5,304.3 47.6,303.1 47.7,302.0 47.8,300.8 47.9,299.7 48.1,298.6 48.2,297.4 48.3,296.3 48.4,295.2 48.5,294.0 48.6,292.9 48.8,291.8 48.9,290.7 49.0,289.6 49.1,288.5 49.2,287.4 49.3,286.3 49.5,285.2 49.6,284.1 49.7,283.0 49.8,282.0 49.9,280.9 50.0,279.9 50.1,278.8 50.2,277.8 50.3,276.8 50.5,275.8 50.6,274.8 50.7,273.8 50.8,272.8 50.9,271.9 51.0,270.9 51.1,270.0 51.2,269.1 51.3,268.2 51.4,267.3 51.5,266.4 51.6,265.5 51.6,264.7 51.7,263.9 51.8,263.1 51.9,262.3 52.0,261.5 52.1,260.8 52.2,260.0 52.3,259.3 52.3,258.6 52.5,256.8 52.7,255.0 52.9,253.4 53.1,251.8 53.2,250.3 53.4,248.9 53.5,247.6 53.6,246.3 53.7,245.1 53.8,244.0 53.9,242.9 54.0,241.9 54.1,240.9 54.2,239.9 54.3,239.0 54.4,238.2 54.5,237.4 54.6,236.6 54.7,235.8 54.8,235.1 54.9,234.4 55.0,233.7 55.1,233.0 55.2,232.3 55.4,231.6 55.5,231.0 55.7,230.3 55.9,229.6 56.1,228.9 56.3,228.2 56.6,227.5 57.0,226.3 57.6,225.1 58.1,224.0 58.8,223.0 59.4,222.0 60.1,221.1 60.8,220.2 61.5,219.4 62.2,218.7 63.0,217.9 63.7,217.2 64.4,216.6 65.1,216.0 65.7,215.4 66.3,214.9 66.9,214.3 67.4,213.8 67.9,213.4 69.1,211.9 70.0,210.9 70.6,210.3 71.2,210.2 72.1,210.5 72.7,210.9 73.3,211.4 73.9,212.1 74.6,212.8 75.2,213.7 75.9,214.6 76.6,215.6 77.3,216.5 78.0,217.4 78.6,218.2 79.2,219.0 79.9,219.9 80.6,220.8 81.2,221.8 81.8,222.7 82.4,223.6 83.0,224.4 83.6,225.1 84.2,225.7 84.9,226.1 86.0,226.3 87.1,225.9 88.3,225.2 89.4,224.7 90.5,224.7 91.3,224.9 92.1,225.3 92.8,225.9 93.6,226.5 94.4,227.2 95.2,228.0 96.2,228.9 96.8,229.5 97.5,230.1 98.2,230.9 98.9,231.6 99.7,232.4 100.4,233.2 101.2,234.0 101.9,234.8 102.7,235.6 103.4,236.3 104.1,236.9 104.7,237.4 105.8,238.2 106.8,238.9 107.7,239.4 108.5,239.8 109.4,240.1 110.3,240.2 111.5,240.3 112.7,240.1 113.8,239.9 114.9,239.4 116.0,238.8 116.7,238.2 117.1,237.6 117.6,236.8 118.1,235.9 119.0,234.9 120.2,233.7 120.8,233.2 121.5,232.7 122.2,232.2 123.0,231.6 123.9,231.1 124.7,230.5 125.7,229.9 126.6,229.3 127.6,228.7 128.5,228.0 129.5,227.3 130.4,226.6 131.3,225.9 132.2,225.1 133.0,224.3 133.8,223.5 134.4,222.7 135.0,222.0 135.6,221.2 136.1,220.5 136.7,219.7 137.2,218.8 137.8,218.0 138.3,217.2 138.8,216.3 139.3,215.4 139.8,214.5 140.3,213.5 140.9,212.6 141.4,211.6 141.9,210.6 142.4,209.6 142.9,208.6 143.4,207.6 144.0,206.5 144.4,205.7 144.8,204.8 145.2,203.9 145.6,203.0 146.0,202.0 146.5,201.0 146.9,200.0 147.3,199.0 147.8,198.0 148.2,197.0 148.6,196.0 149.0,194.9 149.5,193.9 149.9,192.8 150.3,191.8 150.7,190.8 151.1,189.8 151.5,188.8 151.9,187.9 152.3,186.9 152.7,186.0 153.1,185.1 153.4,184.3 153.8,183.5 154.1,182.7 154.7,181.5 155.2,180.4 155.7,179.3 156.2,178.3 156.7,177.3 157.1,176.4 157.6,175.5 158.0,174.7 158.4,173.8 158.9,173.0 159.3,172.3 159.7,171.5 160.1,170.7 160.5,169.9 160.9,169.1 161.5,168.0 162.1,166.9 162.7,165.8 163.3,164.7 163.9,163.7 164.5,162.6 165.0,161.7 165.5,160.8 166.0,160.1 166.5,159.5 166.9,159.0 168.2,158.4 169.4,159.8 170.0,160.3 170.6,161.0 171.3,161.8 172.1,162.6 172.9,163.6 173.7,164.6 174.5,165.7 175.0,166.4 175.5,167.2 176.1,168.0 176.7,168.8 177.2,169.7 177.8,170.6 178.4,171.5 179.0,172.4 179.6,173.3 180.2,174.2 180.7,175.1 181.3,175.9 181.9,176.8 182.5,177.7 183.0,178.6 183.6,179.5 184.2,180.5 184.8,181.4 185.4,182.3 186.0,183.2 186.5,184.0 187.1,184.8 187.6,185.5 188.1,186.1 189.0,187.3 189.9,188.3 190.6,189.1 191.4,189.8 192.3,190.2 193.2,190.4 193.9,190.3 194.7,190.1 195.5,189.7 196.3,189.3 197.1,188.6 198.0,187.9 199.0,187.1 200.0,186.1 200.6,185.5 201.2,184.8 201.9,184.1 202.6,183.2 203.4,182.3 204.2,181.4 204.9,180.4 205.7,179.5 206.4,178.5 207.2,177.6 207.9,176.8 208.5,176.0 209.1,175.3 209.6,174.7 210.0,174.2 211.6,173.7 211.8,174.3 212.1,174.9 212.4,175.5 212.8,176.3 213.2,177.1 213.6,178.0 214.0,179.0 214.4,179.9 214.8,181.0 215.3,182.0 215.7,183.1 216.2,184.2 216.6,185.3 217.0,186.4 217.5,187.5 217.9,188.6 218.3,189.7 218.6,190.7 218.9,191.6 219.3,192.6 219.6,193.5 219.9,194.5 220.1,195.4 220.4,196.4 220.7,197.3 221.0,198.3 221.3,199.3 221.5,200.3 221.8,201.3 222.1,202.3 222.4,203.3 222.6,204.3 222.9,205.3 223.2,206.3 223.5,207.4 223.7,208.4 224.0,209.5 224.3,210.5 224.5,211.5 224.8,212.4 225.0,213.3 225.3,214.3 225.5,215.3 225.8,216.2 226.0,217.2 226.3,218.2 226.5,219.2 226.7,220.2 227.0,221.2 227.2,222.2 227.5,223.2 227.7,224.2 228.0,225.2 228.2,226.2 228.5,227.2 228.7,228.2 229.0,229.2 229.2,230.2 229.5,231.2 229.7,232.2 229.9,233.2 230.2,234.1 230.4,235.2 230.7,236.2 230.9,237.2 231.2,238.3 231.4,239.3 231.7,240.4 231.9,241.5 232.2,242.5 232.4,243.6 232.7,244.7 232.9,245.7 233.1,246.7 233.4,247.7 233.6,248.8 233.9,249.7 234.1,250.7 234.4,251.6 234.6,252.5 234.9,253.4 235.1,254.2 235.4,255.0 235.6,255.8 236.1,257.2 236.5,258.4 237.0,259.6 237.5,260.8 238.0,261.8 238.4,262.8 238.9,263.7 239.4,264.5 239.8,265.2 240.3,265.9 240.8,266.5 241.3,267.1 242.4,268.1 243.5,268.7 244.7,268.8 245.8,268.8 246.9,268.5 247.7,268.3 248.5,267.9 249.2,267.4 250.0,266.8 250.8,266.1 251.6,265.2 252.6,264.3 253.1,263.7 253.7,263.0 254.3,262.2 255.0,261.3 255.6,260.4 256.3,259.5 257.0,258.6 257.7,257.7 258.4,256.9 259.0,256.1 259.7,255.4 260.4,254.8 261.1,254.4 262.1,253.9 263.3,253.6 264.4,253.6 265.5,253.7 266.6,253.8 267.6,254.0 268.6,254.2 269.6,254.4 270.9,254.7 272.0,255.1 273.1,255.6 274.1,255.8 275.2,255.8 276.0,255.5 276.8,254.9 277.6,254.2 278.4,253.5 279.2,252.7 280.1,252.0 280.9,251.5 282.0,251.1 283.1,250.9 284.3,250.8 285.4,250.5 286.5,250.1 287.3,249.7 288.1,249.3 288.9,248.8 289.8,248.2 290.6,247.6 291.4,246.8 292.2,245.9 292.7,245.2 293.2,244.4 293.7,243.5 294.2,242.6 294.8,241.6 295.3,240.6 295.8,239.6 296.3,238.6 296.8,237.7 297.3,236.8 297.8,236.0 298.5,235.0 299.1,234.1 299.7,233.3 300.4,232.4 301.0,231.6 301.6,230.8 302.2,230.1 302.9,229.5 303.5,228.9 304.4,228.2 305.3,227.8 306.1,227.5 307.1,227.2 308.0,226.7 309.2,226.1 309.8,225.6 310.6,225.0 311.3,224.3 312.2,223.6 313.0,222.9 313.8,222.2 314.6,221.4 315.5,220.7 316.2,220.1 317.0,219.5 317.6,219.0 318.7,218.2 319.6,217.5 320.5,216.9 321.3,216.4 322.2,216.2 323.3,216.2 324.1,216.3 325.0,216.6 325.9,217.1 326.9,217.6 327.9,218.2 328.9,218.7 329.8,219.3 330.8,219.9 331.8,220.4 332.7,220.9 333.7,221.4 334.6,221.9 335.6,222.5 336.5,223.0 337.4,223.5 338.4,223.9 339.3,224.3 340.3,224.7 341.3,225.0 342.4,225.3 343.5,225.6 344.5,225.8 345.6,226.0 346.6,226.1 347.7,226.1 348.8,226.1 349.8,225.9 350.9,225.4 351.9,224.9 353.0,224.3 354.1,223.8 355.1,223.4 356.2,223.2 357.2,223.3 358.0,223.5 358.8,223.8 359.6,224.3 360.3,224.8 361.1,225.4 361.9,226.1 362.6,226.8 363.4,227.6 364.2,228.5 365.0,229.4 365.7,230.3 366.3,231.0 366.8,231.8 367.4,232.6 367.9,233.4 368.5,234.3 369.0,235.3 369.6,236.2 370.1,237.2 370.7,238.1 371.2,239.1 371.8,240.0 372.3,241.0 372.8,241.9 373.3,242.8 373.8,243.7 374.2,244.5 374.8,245.5 375.3,246.5 375.9,247.5 376.4,248.5 376.8,249.4 377.3,250.3 377.7,251.2 378.2,252.1 378.6,253.0 379.1,253.8 379.5,254.6 380.0,255.5 380.6,256.4 381.1,257.2 381.7,257.9 382.3,258.6 382.8,259.3 383.4,260.1 384.0,260.9 384.5,261.7 385.1,262.8 385.7,263.9 386.0,264.7 386.3,265.5 386.7,266.4 387.0,267.3 387.3,268.2 387.7,269.2 388.0,270.1 388.4,271.2 388.7,272.2 389.0,273.2 389.4,274.3 389.7,275.4 390.0,276.5 390.4,277.6 390.7,278.7 391.0,279.8 391.3,280.9 391.6,281.8 391.8,282.8 392.0,283.7 392.3,284.7 392.5,285.6 392.7,286.6 392.9,287.6 393.2,288.7 393.4,289.7 393.6,290.7 393.8,291.7 394.0,292.7 394.3,293.8 394.5,294.8 394.7,295.8 394.9,296.8 395.2,297.8 395.4,298.8 395.6,299.8 395.9,300.7 396.1,301.7 396.4,302.7 396.7,303.8 397.0,304.8 397.3,305.8 397.6,306.8 398.0,307.8 398.3,308.8 398.6,309.8 398.9,310.8 399.2,311.8 399.6,312.7 399.9,313.7 400.2,314.7 400.5,315.6 400.9,316.6 401.2,317.5 401.5,318.5 401.8,319.4 402.1,320.4 402.4,321.4 402.7,322.4 403.0,323.5 403.3,324.5 403.6,325.5 403.9,326.5 404.2,327.5 404.5,328.5 404.8,329.5 405.1,330.4 405.4,331.4 405.7,332.4 406.0,333.4 406.3,334.4 406.6,335.4 406.9,336.4 407.2,337.4 407.5,338.4 407.8,339.4 408.0,340.4 408.3,341.4 408.6,342.4 408.9,343.4 409.2,344.5 409.5,345.5 409.7,346.5 410.0,347.5 410.3,348.5 410.6,349.5 410.9,350.5 411.3,351.5 411.6,352.4 411.9,353.4 412.3,354.3 412.7,355.4 413.1,356.5 413.5,357.6 413.9,358.7 414.4,359.8 414.9,360.9 415.3,361.9 415.8,363.0 416.3,364.0 416.7,364.9 417.2,365.8 417.7,366.7 418.1,367.5 418.6,368.1 419.0,368.8 420.0,369.7 421.0,370.3 422.0,370.5 422.9,370.7 423.9,370.7 424.9,370.9 425.8,371.3 426.7,371.8 427.5,372.4 428.4,373.0 429.2,373.6 430.1,374.3 430.9,374.9 431.8,375.7 432.6,376.4 433.4,377.1 434.2,377.9 435.0,378.8 435.7,379.6 436.5,380.5 437.3,381.3 438.0,382.0 438.7,382.7 439.4,383.2 440.5,383.8 441.5,384.2 442.4,384.4 443.4,384.3 444.5,384.0 445.3,383.7 446.1,383.2 446.9,382.6 447.8,381.9 448.7,381.2 449.6,380.4 450.4,379.7 451.3,378.9 452.1,378.3 452.8,377.7 453.6,377.0 454.4,376.3 455.2,375.6 456.0,375.0 456.7,374.3 457.4,373.6 458.1,373.0 458.9,372.3 459.7,371.6 460.4,371.0 461.1,370.4 461.8,369.7 462.5,368.9 463.2,367.9 463.7,367.2 464.1,366.5 464.6,365.8 465.0,365.0 465.5,364.2 466.0,363.3 466.4,362.4 466.9,361.4 467.4,360.3 467.8,359.1 468.3,357.7 468.5,357.0 468.8,356.2 469.0,355.5 469.2,354.7 469.5,353.9 469.7,353.0 469.9,352.2 470.2,351.3 470.4,350.4 470.6,349.5 470.9,348.5 471.1,347.6 471.3,346.6 471.6,345.5 471.8,344.5 472.1,343.4 472.3,342.2 472.6,341.1 472.8,339.9 473.1,338.6 473.4,337.4 473.6,336.5 473.7,335.7 473.9,334.9 474.1,334.0 474.3,333.1 474.5,332.3 474.7,331.3 474.9,330.4 475.1,329.5 475.3,328.6 475.5,327.6 475.7,326.6 475.9,325.6 476.1,324.7 476.3,323.6 476.5,322.6 476.7,321.6 476.9,320.6 477.2,319.5 477.4,318.5 477.6,317.5 477.8,316.4 478.0,315.3 478.2,314.3 478.4,313.2 478.6,312.1 478.8,311.0 479.0,309.9 479.1,308.9 479.3,307.8 479.5,306.7 479.7,305.6 479.8,304.5 480.0,303.4 480.1,302.5 480.3,301.5 480.4,300.6 480.5,299.6 480.6,298.6 480.7,297.7 480.8,296.7 480.9,295.7 481.0,294.7 481.1,293.7 481.2,292.7 481.2,291.7 481.3,290.7 481.4,289.6 481.5,288.6 481.5,287.6 481.6,286.6 481.7,285.5 481.8,284.5 481.9,283.5 481.9,282.4 482.0,281.4 482.1,280.3 482.2,279.3 482.3,278.3 482.4,277.2 482.5,276.2 482.6,275.2 482.7,274.1 482.8,273.1 482.9,272.1 483.0,271.1 483.1,270.1 483.3,269.1 483.4,268.1 483.6,267.1 483.7,266.1 483.9,265.1 484.1,264.1 484.3,263.2 484.5,262.1 484.7,261.1 485.0,260.1 485.2,259.1 485.5,258.0 485.7,257.0 486.0,256.0 486.3,254.9 486.5,253.9 486.8,252.9 487.1,251.8 487.4,250.8 487.7,249.8 488.1,248.7 488.4,247.7 488.7,246.7 489.0,245.7 489.4,244.7 489.7,243.7 490.0,242.7 490.3,241.7 490.7,240.7 491.0,239.7 491.3,238.7 491.7,237.8 492.0,236.8 492.3,235.9 492.6,235.0 493.0,234.0 493.3,233.1 493.6,232.2 493.9,231.4 494.2,230.5 494.5,229.6 494.8,228.8 495.1,228.0 495.3,227.2 495.6,226.4 496.0,225.2 496.4,224.0 496.8,222.8 497.2,221.7 497.6,220.5 497.9,219.5 498.3,218.4 498.6,217.4 499.0,216.4 499.3,215.4 499.7,214.4 500.0,213.5 500.4,212.6 500.7,211.7 501.0,210.8 501.4,209.9 501.7,209.1 502.0,208.3 502.4,207.5 502.7,206.7 503.0,205.9 503.4,205.2 503.7,204.5 504.1,203.7 504.7,202.6 505.3,201.5 506.0,200.4 506.6,199.5 507.2,198.6 507.9,197.7 508.5,196.9 509.1,196.2 509.8,195.5 510.4,194.8 510.9,194.2 511.5,193.6 512.1,193.0 512.6,192.4 513.5,191.4 514.4,190.5 515.1,189.8 515.9,189.2 516.6,188.8 517.4,188.4 518.2,188.2 519.2,188.0 520.2,187.7 521.2,187.6 522.2,187.6 523.2,187.9 524.3,188.5 525.3,189.6 525.7,190.1 526.1,190.8 526.5,191.4 526.9,192.2 527.3,193.0 527.6,193.8 528.0,194.7 528.4,195.6 528.8,196.6 529.2,197.6 529.6,198.6 530.0,199.7 530.4,200.8 530.8,201.9 531.2,203.1 531.6,204.2 532.0,205.4 532.4,206.6 532.7,207.4 533.0,208.3 533.2,209.2 533.5,210.1 533.8,211.0 534.2,212.0 534.5,213.0 534.8,214.0 535.1,215.0 535.4,216.0 535.7,217.0 536.0,218.1 536.3,219.1 536.6,220.2 536.9,221.2 537.2,222.3 537.5,223.3 537.8,224.3 538.1,225.3 538.4,226.4 538.7,227.4 539.0,228.3 539.2,229.3 539.5,230.3 539.8,231.2 540.0,232.1 540.3,233.2 540.6,234.2 540.9,235.3 541.1,236.3 541.4,237.3 541.6,238.3 541.9,239.3 542.1,240.3 542.4,241.3 542.6,242.2 542.8,243.2 543.0,244.1 543.3,245.0 543.5,246.0 543.7,246.9 543.9,247.8 544.2,248.7 544.4,249.7 544.6,250.6 544.9,251.5 545.1,252.4 545.4,253.5 545.6,254.5 545.9,255.6 546.2,256.6 546.5,257.7 546.8,258.7 547.1,259.7 547.4,260.8 547.7,261.8 547.9,262.8 548.2,263.8 548.5,264.8 548.8,265.8 549.0,266.7 549.3,267.7 549.5,268.6 549.8,269.4 550.0,270.3 550.2,271.1 550.5,272.4 550.7,273.6 551.0,274.8 551.2,275.9 551.3,277.0 551.5,278.1 551.7,279.1 551.9,280.0 552.0,280.8 552.2,281.6 552.5,282.4 552.7,283.0 553.7,284.3 554.7,284.9 555.9,285.1 557.0,285.6 558.0,286.4 559.1,287.4 560.2,288.1 561.2,288.1 561.7,287.7 562.3,287.1 562.8,286.4 563.3,285.5 563.8,284.5 564.3,283.5 564.9,282.4 565.5,281.3 565.9,280.5 566.3,279.7 566.8,278.8 567.3,277.9 567.7,276.9 568.2,275.9 568.7,275.0 569.1,274.0 569.6,273.0 570.1,272.1 570.6,271.1 571.0,270.2 571.5,269.2 571.9,268.3 572.4,267.3 572.9,266.4 573.3,265.4 573.8,264.5 574.3,263.6 574.7,262.7 575.2,261.8 575.7,260.9 576.2,259.9 576.8,258.9 577.4,257.9 577.9,257.0 578.5,256.0 579.0,255.1 579.6,254.2 580.2,253.3 580.7,252.4 581.4,251.5 582.0,250.5 582.7,249.6 583.3,248.7 584.0,247.9 584.6,247.1 585.2,246.3 585.8,245.7 586.7,244.7 587.6,243.8 588.4,243.1 589.2,242.6 590.1,242.3 591.1,242.3 592.2,242.7 593.3,243.3 594.3,244.0 595.2,244.4 596.0,244.9 596.9,245.5 597.7,246.3 598.6,247.4 599.0,248.1 599.5,248.9 600.0,249.7 600.4,250.7 600.9,251.7 601.3,252.7 601.8,253.7 602.3,254.8 602.8,255.8 603.2,256.7 603.7,257.6 604.1,258.5 604.6,259.5 605.1,260.5 605.5,261.4 606.0,262.4 606.5,263.3 607.0,264.3 607.4,265.2 607.9,266.0 608.5,267.1 609.0,268.1 609.6,269.0 610.2,270.0 610.7,271.0 611.3,271.9 611.9,272.8 612.4,273.7 613.0,274.5 613.6,275.5 614.3,276.4 614.9,277.3 615.6,278.2 616.2,279.0 616.8,279.8 617.5,280.6 618.1,281.3 619.0,282.2 619.8,283.0 620.7,283.7 621.6,284.4 622.4,285.0 623.2,285.6 624.3,286.3 625.4,286.9 626.4,287.3 627.4,287.2 628.1,286.9 628.9,286.4 629.6,285.7 630.3,284.8 631.0,283.9 631.7,283.0 632.2,282.3 632.7,281.5 633.3,280.7 633.8,279.9 634.3,279.0 634.9,278.1 635.4,277.2 635.9,276.2 636.4,275.3 636.9,274.3 637.3,273.3 637.8,272.3 638.2,271.2 638.7,270.2 639.1,269.3 639.6,268.5 640.0,267.7 640.9,266.5 641.7,265.7 642.6,265.0 643.4,264.3 644.2,263.5 645.1,262.6 645.9,262.0 646.8,261.8 647.6,262.2 648.4,263.1 649.2,264.1 650.2,265.2 651.0,265.9 651.8,266.8 652.7,267.7 653.6,268.5 654.5,269.1 655.3,269.4 656.2,269.0 657.1,267.9 657.9,266.7 658.7,266.0 659.7,266.1 660.8,266.7 662.1,267.7 662.7,268.4 663.4,269.2 664.1,270.1 664.9,271.1 665.7,272.0 666.4,272.9 667.2,273.7 668.0,274.4 668.9,275.2 669.8,275.8 670.7,276.4 671.5,276.8 672.3,277.1 673.5,277.2 674.5,276.7 675.7,275.4 676.1,274.7 676.6,273.9 677.1,273.0 677.7,271.9 678.2,270.9 678.8,269.8 679.3,268.7 679.8,267.7 680.3,266.8 680.7,266.0 681.5,264.8 682.1,263.7 682.7,262.8 683.4,262.2 684.1,261.8 685.1,261.7 686.1,262.0 687.2,262.5 688.3,263.0 689.2,263.5 690.4,264.2 691.4,265.0 692.6,265.2 693.4,264.8 694.2,264.2 695.1,263.4 696.0,262.6 696.9,262.0 697.7,261.8 698.6,261.9 699.4,262.3 700.3,262.8 701.1,263.5 702.0,264.3 702.8,265.2 703.5,265.9 704.1,266.8 704.7,267.7 705.4,268.7 706.0,269.6 706.6,270.6 707.3,271.3 707.9,272.0 708.9,272.7 709.9,273.1 710.8,273.4 711.9,273.6 713.0,273.7 714.1,273.7 715.2,273.5 716.4,273.3 717.6,273.1 718.7,272.9 719.8,272.8 721.0,272.9 722.0,273.2 723.1,273.4 724.0,273.6 724.9,273.7 726.1,273.5 727.2,273.1 728.3,272.0 728.8,271.3 729.3,270.5 729.8,269.5 730.4,268.5 730.9,267.4 731.4,266.3 732.0,265.3 732.5,264.3 733.1,263.4 733.6,262.5 734.2,261.6 734.7,260.8 735.3,259.9 735.8,259.1 736.3,258.3 736.8,257.5 737.3,256.8 737.7,256.4 738.1,256.0 738.6,255.4 739.2,254.3 740.0,252.4 740.2,251.8 740.5,251.1 740.8,250.3 741.1,249.5 741.4,248.6 741.7,247.6 742.0,246.6 742.3,245.6 742.7,244.5 743.0,243.4 743.4,242.3 743.8,241.2 744.1,240.1 744.5,239.0 744.9,237.8 745.2,236.7 745.6,235.7 746.0,234.6 746.4,233.6 746.7,232.6 747.1,231.7 747.5,230.8 747.8,230.0 748.2,229.2 748.8,228.0 749.4,226.9 750.1,225.8 750.7,224.8 751.4,223.8 752.1,222.9 752.7,222.1 753.4,221.3 754.0,220.6 754.6,219.9 755.2,219.3 755.7,218.8 756.2,218.3 756.7,217.9 757.9,216.8 758.5,217.1 760.0,218.2 760.6,218.6 761.2,219.2 761.9,219.9 762.7,220.6 763.5,221.5 764.3,222.3 765.2,223.2 766.0,224.0 766.9,224.8 767.8,225.5 768.7,226.0 769.6,226.5 770.5,226.7 771.3,226.7 772.0,226.5 772.7,226.2 773.5,225.8 774.2,225.2 774.9,224.5 775.7,223.8 776.4,223.0 777.1,222.1 777.9,221.2 778.6,220.3 779.3,219.4 780.0,218.5 780.7,217.6 781.4,216.8 782.0,216.1 782.6,215.4 783.4,214.6 784.2,213.7 785.0,212.9 785.7,212.1 786.4,211.3 787.1,210.5 787.7,209.8 788.4,209.1 789.1,208.5 789.7,207.9 790.4,207.4 791.1,206.9 792.2,206.3 793.2,205.9 794.3,205.5 795.4,205.2 796.4,205.1 797.5,205.1 798.5,205.2 799.6,205.5 800.4,205.9 801.1,206.6 801.9,207.5 802.7,208.6 803.5,209.6 804.2,210.7 805.0,211.6 805.8,212.3 806.5,212.8 807.3,212.9 808.1,212.6 808.5,212.2 808.9,211.7 809.3,211.1 809.7,210.5 810.1,209.7 810.5,208.9 810.9,208.0 811.3,207.0 811.7,206.0 812.1,204.9 812.5,203.8 812.9,202.7 813.3,201.5 813.7,200.4 814.2,199.2 814.6,198.1 815.0,196.9 815.4,195.8 815.8,194.8 816.2,193.7 816.6,192.8 817.0,191.8 817.4,190.9 817.8,189.9 818.2,189.0 818.7,188.0 819.1,187.1 819.5,186.2 819.9,185.2 820.4,184.3 820.8,183.3 821.2,182.4 821.6,181.4 822.0,180.5 822.4,179.6 822.8,178.6 823.2,177.7 823.6,176.7 824.0,175.8 824.4,174.8 824.7,173.9 825.1,173.0 825.4,172.0 825.7,171.0 826.1,170.0 826.4,169.0 826.7,168.1 827.0,167.1 827.3,166.1 827.5,165.2 827.8,164.2 828.1,163.2 828.3,162.3 828.6,161.3 828.9,160.3 829.1,159.3 829.4,158.3 829.6,157.3 829.9,156.3 830.2,155.2 830.4,154.2 830.7,153.2 831.0,152.2 831.2,151.2 831.5,150.3 831.7,149.2 832.0,148.2 832.2,147.2 832.4,146.1 832.7,145.0 832.9,144.0 833.2,142.9 833.4,141.8 833.7,140.8 833.9,139.7 834.2,138.7 834.4,137.7 834.7,136.7 834.9,135.7 835.1,134.7 835.4,133.8 835.6,132.9 835.9,132.1 836.1,131.3 836.4,130.5 836.9,129.2 837.3,127.9 837.8,126.7 838.3,125.5 838.7,124.5 839.2,123.5 839.7,122.6 840.2,121.8 840.6,121.1 841.1,120.4 841.6,119.8 842.0,119.2 843.1,118.1 844.2,117.4 845.2,117.1 846.4,117.2 847.7,117.8 848.3,118.2 848.9,118.7 849.5,119.2 850.2,119.9 850.9,120.6 851.6,121.4 852.3,122.2 853.0,123.1 853.7,124.0 854.4,124.9 855.0,125.8 855.6,126.8 856.2,127.7 856.6,128.5 857.1,129.3 857.5,130.2 857.9,131.1 858.3,132.0 858.6,132.9 859.0,133.8 859.4,134.8 859.7,135.8 860.1,136.8 860.4,137.8 860.8,138.8 861.1,139.8 861.5,140.8 861.8,141.8 862.2,142.8 862.5,143.7 862.8,144.8 863.1,145.8 863.4,146.8 863.7,147.9 864.0,149.0 864.3,150.1 864.6,151.1 865.0,152.2 865.3,153.2 865.6,154.3 866.0,155.2 866.3,156.2 866.7,157.1 867.1,158.0 867.5,158.8 868.1,159.8 868.6,160.8 869.3,161.8 869.9,162.8 870.6,163.7 871.2,164.5 871.9,165.3 872.6,166.1 873.3,166.7 874.0,167.3 874.6,167.9 875.3,168.3 876.0,168.7 877.0,169.1 878.1,169.3 879.2,169.2 880.2,169.0 881.3,168.6 882.3,168.2 883.4,167.8 884.5,167.3 885.3,166.9 886.2,166.3 887.0,165.7 887.9,165.1 888.7,164.4 889.6,163.7 890.4,163.1 891.3,162.5 892.1,162.0 893.0,161.6 894.0,161.4 895.1,161.4 896.1,161.6 897.2,161.8 898.3,162.0 899.3,162.1 900.4,162.0 901.4,161.6 902.1,161.2 902.9,160.8 903.6,160.2 904.3,159.7 905.0,159.0 905.7,158.3 906.4,157.5 907.1,156.7 907.8,155.9 908.5,155.0 909.2,154.1 909.9,153.2 910.5,152.4 911.0,151.6 911.6,150.8 912.1,149.9 912.7,149.1 913.2,148.1 913.8,147.2 914.3,146.3 914.9,145.3 915.4,144.4 916.0,143.4 916.5,142.5 917.0,141.6 917.5,140.7 918.0,139.8 918.4,139.0 919.0,138.0 919.5,137.1 920.0,136.2 920.5,135.4 920.9,134.7 921.4,133.9 921.8,133.1 922.2,132.2 922.6,131.3 923.1,130.2 923.6,129.0 924.1,127.7 924.4,126.9 924.6,126.1 925.0,125.1 925.3,124.1 925.6,123.1 925.9,122.0 926.3,120.9 926.6,119.8 927.0,118.6 927.3,117.4 927.7,116.3 928.0,115.1 928.3,113.9 928.6,112.8 929.0,111.7 929.3,110.6 929.5,109.6 929.8,108.7 930.1,107.8 930.3,107.0 930.5,106.3 930.7,105.6 930.9,105.1" fill="none" stroke="#ff0000" stroke-width="1" shape-rendering="crispEdges"/><rect x="1169" y="540" width="1" height="1" fill="#000" shape-rendering="crispEdges"/><rect x="1169" y="487" width="1" height="1" fill="#000" shape-rendering="crispEdges"/><g shape-rendering="crispEdges" fill="#c0c0c0"><rect x="6" y="538" width="2" height="2"/><rect x="8" y="538" width="2" height="2"/><rect x="10" y="538" width="2" height="2"/><rect x="12" y="537" width="2" height="3"/><rect x="14" y="537" width="2" height="3"/><rect x="16" y="537" width="2" height="3"/><rect x="18" y="537" width="2" height="3"/><rect x="20" y="536" width="2" height="4"/><rect x="22" y="536" width="2" height="4"/><rect x="24" y="530" width="2" height="10"/><rect x="26" y="526" width="2" height="14"/><rect x="28" y="521" width="2" height="19"/><rect x="30" y="514" width="2" height="26"/><rect x="32" y="508" width="2" height="32"/><rect x="34" y="503" width="2" height="37"/><rect x="36" y="499" width="2" height="41"/><rect x="38" y="496" width="2" height="44"/><rect x="40" y="494" width="2" height="46"/><rect x="42" y="492" width="2" height="48"/><rect x="44" y="491" width="2" height="49"/><rect x="46" y="491" width="2" height="49"/><rect x="48" y="490" width="2" height="50"/><rect x="50" y="490" width="2" height="50"/><rect x="52" y="491" width="2" height="49"/><rect x="54" y="491" width="2" height="49"/><rect x="56" y="491" width="2" height="49"/><rect x="58" y="496" width="2" height="44"/><rect x="60" y="500" width="2" height="40"/><rect x="62" y="503" width="2" height="37"/><rect x="64" y="505" width="2" height="35"/><rect x="66" y="507" width="2" height="33"/><rect x="68" y="509" width="2" height="31"/><rect x="70" y="511" width="2" height="29"/><rect x="72" y="513" width="2" height="27"/><rect x="74" y="515" width="2" height="25"/><rect x="76" y="517" width="2" height="23"/><rect x="78" y="520" width="2" height="20"/><rect x="80" y="523" width="2" height="17"/><rect x="82" y="525" width="2" height="15"/><rect x="84" y="526" width="2" height="14"/><rect x="86" y="527" width="2" height="13"/><rect x="88" y="528" width="2" height="12"/><rect x="90" y="529" width="2" height="11"/><rect x="92" y="529" width="2" height="11"/><rect x="94" y="530" width="2" height="10"/><rect x="96" y="531" width="2" height="9"/><rect x="98" y="533" width="2" height="7"/><rect x="100" y="534" width="2" height="6"/><rect x="102" y="535" width="2" height="5"/><rect x="104" y="536" width="2" height="4"/><rect x="106" y="537" width="2" height="3"/><rect x="108" y="538" width="2" height="2"/><rect x="110" y="538" width="2" height="2"/><rect x="112" y="538" width="2" height="2"/><rect x="114" y="538" width="2" height="2"/><rect x="116" y="537" width="2" height="3"/><rect x="118" y="537" width="2" height="3"/><rect x="120" y="536" width="2" height="4"/><rect x="122" y="535" width="2" height="5"/><rect x="124" y="534" width="2" height="6"/><rect x="126" y="533" width="2" height="7"/><rect x="128" y="533" width="2" height="7"/><rect x="130" y="533" width="2" height="7"/><rect x="132" y="532" width="2" height="8"/><rect x="134" y="532" width="2" height="8"/><rect x="136" y="531" width="2" height="9"/><rect x="138" y="530" width="2" height="10"/><rect x="140" y="529" width="2" height="11"/><rect x="142" y="527" width="2" height="13"/><rect x="144" y="526" width="2" height="14"/><rect x="146" y="525" width="2" height="15"/><rect x="148" y="523" width="2" height="17"/><rect x="150" y="524" width="2" height="16"/><rect x="152" y="524" width="2" height="16"/><rect x="154" y="524" width="2" height="16"/><rect x="156" y="525" width="2" height="15"/><rect x="158" y="526" width="2" height="14"/><rect x="160" y="526" width="2" height="14"/><rect x="162" y="527" width="2" height="13"/><rect x="164" y="528" width="2" height="12"/><rect x="166" y="530" width="2" height="10"/><rect x="168" y="532" width="2" height="8"/><rect x="170" y="534" width="2" height="6"/><rect x="172" y="535" width="2" height="5"/><rect x="174" y="536" width="2" height="4"/><rect x="176" y="537" width="2" height="3"/><rect x="178" y="537" width="2" height="3"/><rect x="180" y="538" width="2" height="2"/><rect x="182" y="539" width="2" height="1"/><rect x="186" y="540" width="2" height="1"/><rect x="190" y="539" width="2" height="1"/><rect x="192" y="539" width="2" height="1"/><rect x="194" y="538" width="2" height="2"/><rect x="196" y="538" width="2" height="2"/><rect x="198" y="537" width="2" height="3"/><rect x="200" y="537" width="2" height="3"/><rect x="202" y="536" width="2" height="4"/><rect x="204" y="536" width="2" height="4"/><rect x="206" y="535" width="2" height="5"/><rect x="208" y="535" width="2" height="5"/><rect x="210" y="537" width="2" height="3"/><rect x="214" y="540" width="2" height="5"/><rect x="216" y="540" width="2" height="8"/><rect x="218" y="540" width="2" height="11"/><rect x="220" y="540" width="2" height="13"/><rect x="222" y="540" width="2" height="14"/><rect x="224" y="540" width="2" height="15"/><rect x="226" y="540" width="2" height="16"/><rect x="228" y="540" width="2" height="17"/><rect x="230" y="540" width="2" height="17"/><rect x="232" y="540" width="2" height="18"/><rect x="234" y="540" width="2" height="18"/><rect x="236" y="540" width="2" height="18"/><rect x="238" y="540" width="2" height="18"/><rect x="240" y="540" width="2" height="17"/><rect x="242" y="540" width="2" height="17"/><rect x="244" y="540" width="2" height="16"/><rect x="246" y="540" width="2" height="15"/><rect x="248" y="540" width="2" height="14"/><rect x="250" y="540" width="2" height="13"/><rect x="252" y="540" width="2" height="10"/><rect x="254" y="540" width="2" height="8"/><rect x="256" y="540" width="2" height="6"/><rect x="258" y="540" width="2" height="4"/><rect x="260" y="540" width="2" height="4"/><rect x="262" y="540" width="2" height="3"/><rect x="264" y="540" width="2" height="4"/><rect x="266" y="540" width="2" height="5"/><rect x="268" y="540" width="2" height="6"/><rect x="270" y="540" width="2" height="7"/><rect x="272" y="540" width="2" height="8"/><rect x="274" y="540" width="2" height="6"/><rect x="276" y="540" width="2" height="4"/><rect x="278" y="540" width="2" height="2"/><rect x="280" y="540" width="2" height="1"/><rect x="282" y="539" width="2" height="1"/><rect x="284" y="537" width="2" height="3"/><rect x="286" y="536" width="2" height="4"/><rect x="288" y="535" width="2" height="5"/><rect x="290" y="534" width="2" height="6"/><rect x="292" y="533" width="2" height="7"/><rect x="294" y="533" width="2" height="7"/><rect x="296" y="532" width="2" height="8"/><rect x="298" y="535" width="2" height="5"/><rect x="300" y="537" width="2" height="3"/><rect x="302" y="536" width="2" height="4"/><rect x="304" y="536" width="2" height="4"/><rect x="306" y="535" width="2" height="5"/><rect x="308" y="535" width="2" height="5"/><rect x="310" y="534" width="2" height="6"/><rect x="312" y="534" width="2" height="6"/><rect x="314" y="533" width="2" height="7"/><rect x="316" y="533" width="2" height="7"/><rect x="318" y="532" width="2" height="8"/><rect x="320" y="532" width="2" height="8"/><rect x="322" y="533" width="2" height="7"/><rect x="324" y="534" width="2" height="6"/><rect x="326" y="536" width="2" height="4"/><rect x="328" y="539" width="2" height="1"/><rect x="332" y="540" width="2" height="2"/><rect x="334" y="540" width="2" height="2"/><rect x="336" y="540" width="2" height="1"/><rect x="342" y="539" width="2" height="1"/><rect x="344" y="538" width="2" height="2"/><rect x="346" y="538" width="2" height="2"/><rect x="348" y="537" width="2" height="3"/><rect x="350" y="537" width="2" height="3"/><rect x="352" y="538" width="2" height="2"/><rect x="354" y="539" width="2" height="1"/><rect x="358" y="540" width="2" height="2"/><rect x="360" y="540" width="2" height="4"/><rect x="362" y="540" width="2" height="5"/><rect x="364" y="540" width="2" height="6"/><rect x="366" y="540" width="2" height="6"/><rect x="368" y="540" width="2" height="7"/><rect x="370" y="540" width="2" height="8"/><rect x="372" y="540" width="2" height="8"/><rect x="374" y="540" width="2" height="9"/><rect x="376" y="540" width="2" height="10"/><rect x="378" y="540" width="2" height="10"/><rect x="380" y="540" width="2" height="11"/><rect x="382" y="540" width="2" height="12"/><rect x="384" y="540" width="2" height="12"/><rect x="386" y="540" width="2" height="13"/><rect x="388" y="540" width="2" height="14"/><rect x="390" y="540" width="2" height="15"/><rect x="392" y="540" width="2" height="17"/><rect x="394" y="540" width="2" height="18"/><rect x="396" y="540" width="2" height="20"/><rect x="398" y="540" width="2" height="22"/><rect x="400" y="540" width="2" height="23"/><rect x="402" y="540" width="2" height="24"/><rect x="404" y="540" width="2" height="25"/><rect x="406" y="540" width="2" height="25"/><rect x="408" y="540" width="2" height="25"/><rect x="410" y="540" width="2" height="24"/><rect x="412" y="540" width="2" height="24"/><rect x="414" y="540" width="2" height="23"/><rect x="416" y="540" width="2" height="22"/><rect x="418" y="540" width="2" height="22"/><rect x="420" y="540" width="2" height="21"/><rect x="422" y="540" width="2" height="21"/><rect x="424" y="540" width="2" height="20"/><rect x="426" y="540" width="2" height="20"/><rect x="428" y="540" width="2" height="20"/><rect x="430" y="540" width="2" height="20"/><rect x="432" y="540" width="2" height="19"/><rect x="434" y="540" width="2" height="18"/><rect x="436" y="540" width="2" height="17"/><rect x="438" y="540" width="2" height="17"/><rect x="440" y="540" width="2" height="16"/><rect x="442" y="540" width="2" height="15"/><rect x="444" y="540" width="2" height="13"/><rect x="446" y="540" width="2" height="12"/><rect x="448" y="540" width="2" height="11"/><rect x="450" y="540" width="2" height="9"/><rect x="452" y="540" width="2" height="7"/><rect x="454" y="540" width="2" height="6"/><rect x="456" y="540" width="2" height="4"/><rect x="458" y="540" width="2" height="3"/><rect x="460" y="540" width="2" height="2"/><rect x="462" y="540" width="2" height="1"/><rect x="464" y="538" width="2" height="2"/><rect x="466" y="534" width="2" height="6"/><rect x="468" y="531" width="2" height="9"/><rect x="470" y="528" width="2" height="12"/><rect x="472" y="525" width="2" height="15"/><rect x="474" y="522" width="2" height="18"/><rect x="476" y="519" width="2" height="21"/><rect x="478" y="516" width="2" height="24"/><rect x="480" y="514" width="2" height="26"/><rect x="482" y="512" width="2" height="28"/><rect x="484" y="511" width="2" height="29"/><rect x="486" y="510" width="2" height="30"/><rect x="488" y="509" width="2" height="31"/><rect x="490" y="509" width="2" height="31"/><rect x="492" y="508" width="2" height="32"/><rect x="494" y="508" width="2" height="32"/><rect x="496" y="508" width="2" height="32"/><rect x="498" y="508" width="2" height="32"/><rect x="500" y="509" width="2" height="31"/><rect x="502" y="510" width="2" height="30"/><rect x="504" y="511" width="2" height="29"/><rect x="506" y="513" width="2" height="27"/><rect x="508" y="514" width="2" height="26"/><rect x="510" y="515" width="2" height="25"/><rect x="512" y="516" width="2" height="24"/><rect x="514" y="517" width="2" height="23"/><rect x="516" y="518" width="2" height="22"/><rect x="518" y="519" width="2" height="21"/><rect x="520" y="520" width="2" height="20"/><rect x="522" y="521" width="2" height="19"/><rect x="524" y="525" width="2" height="15"/><rect x="526" y="529" width="2" height="11"/><rect x="528" y="534" width="2" height="6"/><rect x="530" y="538" width="2" height="2"/><rect x="532" y="540" width="2" height="1"/><rect x="534" y="540" width="2" height="5"/><rect x="536" y="540" width="2" height="7"/><rect x="538" y="540" width="2" height="9"/><rect x="540" y="540" width="2" height="11"/><rect x="542" y="540" width="2" height="12"/><rect x="544" y="540" width="2" height="13"/><rect x="546" y="540" width="2" height="14"/><rect x="548" y="540" width="2" height="15"/><rect x="550" y="540" width="2" height="15"/><rect x="552" y="540" width="2" height="15"/><rect x="554" y="540" width="2" height="16"/><rect x="556" y="540" width="2" height="14"/><rect x="558" y="540" width="2" height="12"/><rect x="560" y="540" width="2" height="9"/><rect x="562" y="540" width="2" height="7"/><rect x="564" y="540" width="2" height="5"/><rect x="566" y="540" width="2" height="2"/><rect x="570" y="539" width="2" height="1"/><rect x="572" y="538" width="2" height="2"/><rect x="574" y="538" width="2" height="2"/><rect x="576" y="537" width="2" height="3"/><rect x="578" y="537" width="2" height="3"/><rect x="580" y="538" width="2" height="2"/><rect x="582" y="538" width="2" height="2"/><rect x="584" y="538" width="2" height="2"/><rect x="586" y="538" width="2" height="2"/><rect x="588" y="538" width="2" height="2"/><rect x="590" y="538" width="2" height="2"/><rect x="592" y="538" width="2" height="2"/><rect x="594" y="539" width="2" height="1"/><rect x="596" y="540" width="2" height="1"/><rect x="598" y="540" width="2" height="2"/><rect x="600" y="540" width="2" height="3"/><rect x="602" y="540" width="2" height="4"/><rect x="604" y="540" width="2" height="5"/><rect x="606" y="540" width="2" height="6"/><rect x="608" y="540" width="2" height="7"/><rect x="610" y="540" width="2" height="8"/><rect x="612" y="540" width="2" height="8"/><rect x="614" y="540" width="2" height="7"/><rect x="616" y="540" width="2" height="7"/><rect x="618" y="540" width="2" height="6"/><rect x="620" y="540" width="2" height="5"/><rect x="622" y="540" width="2" height="5"/><rect x="624" y="540" width="2" height="4"/><rect x="626" y="540" width="2" height="3"/><rect x="628" y="540" width="2" height="2"/><rect x="630" y="540" width="2" height="1"/><rect x="634" y="539" width="2" height="1"/><rect x="636" y="537" width="2" height="3"/><rect x="638" y="536" width="2" height="4"/><rect x="640" y="536" width="2" height="4"/><rect x="642" y="535" width="2" height="5"/><rect x="644" y="536" width="2" height="4"/><rect x="646" y="537" width="2" height="3"/><rect x="648" y="540" width="2" height="1"/><rect x="650" y="540" width="2" height="3"/><rect x="652" y="540" width="2" height="4"/><rect x="654" y="540" width="2" height="4"/><rect x="656" y="540" width="2" height="3"/><rect x="658" y="540" width="2" height="1"/><rect x="660" y="539" width="2" height="1"/><rect x="662" y="539" width="2" height="1"/><rect x="664" y="539" width="2" height="1"/><rect x="668" y="539" width="2" height="1"/><rect x="670" y="539" width="2" height="1"/><rect x="672" y="539" width="2" height="1"/><rect x="674" y="538" width="2" height="2"/><rect x="676" y="537" width="2" height="3"/><rect x="678" y="537" width="2" height="3"/><rect x="680" y="537" width="2" height="3"/><rect x="682" y="538" width="2" height="2"/><rect x="684" y="538" width="2" height="2"/><rect x="686" y="539" width="2" height="1"/><rect x="688" y="539" width="2" height="1"/><rect x="690" y="539" width="2" height="1"/><rect x="692" y="539" width="2" height="1"/><rect x="694" y="539" width="2" height="1"/><rect x="696" y="539" width="2" height="1"/><rect x="702" y="540" width="2" height="1"/><rect x="704" y="540" width="2" height="2"/><rect x="706" y="540" width="2" height="2"/><rect x="708" y="540" width="2" height="2"/><rect x="710" y="540" width="2" height="3"/><rect x="712" y="540" width="2" height="2"/><rect x="714" y="540" width="2" height="1"/><rect x="720" y="539" width="2" height="1"/><rect x="722" y="539" width="2" height="1"/><rect x="724" y="539" width="2" height="1"/><rect x="726" y="539" width="2" height="1"/><rect x="728" y="538" width="2" height="2"/><rect x="730" y="537" width="2" height="3"/><rect x="732" y="536" width="2" height="4"/><rect x="734" y="535" width="2" height="5"/><rect x="736" y="533" width="2" height="7"/><rect x="738" y="531" width="2" height="9"/><rect x="740" y="529" width="2" height="11"/><rect x="742" y="527" width="2" height="13"/><rect x="744" y="526" width="2" height="14"/><rect x="746" y="525" width="2" height="15"/><rect x="748" y="526" width="2" height="14"/><rect x="750" y="527" width="2" height="13"/><rect x="752" y="529" width="2" height="11"/><rect x="754" y="531" width="2" height="9"/><rect x="756" y="533" width="2" height="7"/><rect x="758" y="535" width="2" height="5"/><rect x="760" y="536" width="2" height="4"/><rect x="762" y="538" width="2" height="2"/><rect x="764" y="538" width="2" height="2"/><rect x="766" y="538" width="2" height="2"/><rect x="768" y="537" width="2" height="3"/><rect x="770" y="537" width="2" height="3"/><rect x="772" y="536" width="2" height="4"/><rect x="774" y="535" width="2" height="5"/><rect x="776" y="534" width="2" height="6"/><rect x="778" y="533" width="2" height="7"/><rect x="780" y="532" width="2" height="8"/><rect x="782" y="531" width="2" height="9"/><rect x="784" y="530" width="2" height="10"/><rect x="786" y="530" width="2" height="10"/><rect x="788" y="531" width="2" height="9"/><rect x="790" y="532" width="2" height="8"/><rect x="792" y="533" width="2" height="7"/><rect x="794" y="534" width="2" height="6"/><rect x="796" y="535" width="2" height="5"/><rect x="798" y="537" width="2" height="3"/><rect x="800" y="538" width="2" height="2"/><rect x="802" y="538" width="2" height="2"/><rect x="804" y="538" width="2" height="2"/><rect x="806" y="538" width="2" height="2"/><rect x="808" y="538" width="2" height="2"/><rect x="810" y="536" width="2" height="4"/><rect x="812" y="534" width="2" height="6"/><rect x="814" y="531" width="2" height="9"/><rect x="816" y="529" width="2" height="11"/><rect x="818" y="527" width="2" height="13"/><rect x="820" y="525" width="2" height="15"/><rect x="822" y="524" width="2" height="16"/><rect x="824" y="523" width="2" height="17"/><rect x="826" y="521" width="2" height="19"/><rect x="828" y="518" width="2" height="22"/><rect x="830" y="516" width="2" height="24"/><rect x="832" y="514" width="2" height="26"/><rect x="834" y="514" width="2" height="26"/><rect x="836" y="515" width="2" height="25"/><rect x="838" y="517" width="2" height="23"/><rect x="840" y="521" width="2" height="19"/><rect x="842" y="524" width="2" height="16"/><rect x="844" y="527" width="2" height="13"/><rect x="846" y="530" width="2" height="10"/><rect x="848" y="532" width="2" height="8"/><rect x="850" y="535" width="2" height="5"/><rect x="852" y="537" width="2" height="3"/><rect x="854" y="538" width="2" height="2"/><rect x="856" y="539" width="2" height="1"/><rect x="860" y="540" width="2" height="1"/><rect x="862" y="540" width="2" height="3"/><rect x="864" y="540" width="2" height="1"/><rect x="892" y="539" width="2" height="1"/><rect x="894" y="539" width="2" height="1"/><rect x="896" y="538" width="2" height="2"/><rect x="898" y="538" width="2" height="2"/><rect x="900" y="537" width="2" height="3"/><rect x="902" y="537" width="2" height="3"/><rect x="904" y="537" width="2" height="3"/><rect x="906" y="536" width="2" height="4"/><rect x="908" y="535" width="2" height="5"/><rect x="910" y="533" width="2" height="7"/><rect x="912" y="532" width="2" height="8"/><rect x="914" y="532" width="2" height="8"/><rect x="916" y="531" width="2" height="9"/><rect x="918" y="530" width="2" height="10"/><rect x="920" y="528" width="2" height="12"/><rect x="922" y="527" width="2" height="13"/><rect x="924" y="525" width="2" height="15"/><rect x="926" y="523" width="2" height="17"/><rect x="928" y="522" width="2" height="18"/><rect x="930" y="521" width="2" height="19"/></g><polyline points="6.2,537.1 6.9,537.0 7.8,536.8 8.8,536.7 10.0,536.5 11.2,536.3 12.5,536.1 13.7,535.9 14.9,535.9 16.0,535.9 17.1,536.0 18.1,536.2 19.2,536.4 20.3,536.5 21.4,536.6 22.5,536.6 23.6,536.4 24.4,536.1 25.3,535.8 26.2,535.5 27.1,535.1 28.0,534.7 28.9,534.1 29.7,533.5 30.6,532.8 31.4,531.9 32.3,530.9 32.7,530.2 33.2,529.5 33.6,528.7 34.1,527.8 34.5,526.9 35.0,525.9 35.4,524.9 35.8,523.9 36.3,522.8 36.7,521.8 37.1,520.7 37.6,519.7 38.0,518.6 38.4,517.6 38.8,516.6 39.3,515.7 39.7,514.8 40.2,513.8 40.7,512.8 41.2,511.8 41.7,510.8 42.2,509.8 42.7,508.8 43.2,507.8 43.8,506.9 44.3,506.0 44.8,505.1 45.3,504.2 45.7,503.4 46.2,502.6 46.7,501.8 47.1,501.1 47.9,500.1 48.6,499.1 49.3,498.2 50.0,497.4 50.7,496.7 51.3,496.1 52.0,495.5 52.7,494.9 53.3,494.4 54.4,493.7 55.4,493.1 56.4,492.6 57.4,492.3 58.4,492.2 59.6,492.4 60.3,492.8 61.1,493.2 61.9,493.8 62.8,494.5 63.6,495.3 64.5,496.1 65.3,496.9 66.2,497.8 67.0,498.6 67.7,499.3 68.4,500.1 69.0,500.9 69.7,501.7 70.4,502.5 71.1,503.3 71.7,504.2 72.4,505.0 73.1,505.8 73.8,506.6 74.4,507.3 75.2,508.1 75.9,508.9 76.7,509.7 77.4,510.4 78.2,511.1 78.9,511.9 79.7,512.6 80.4,513.3 81.1,514.0 81.9,514.8 82.6,515.5 83.3,516.3 84.0,517.0 84.7,517.8 85.5,518.6 86.2,519.3 86.9,520.1 87.7,520.8 88.5,521.5 89.3,522.2 90.1,522.8 91.0,523.4 91.9,524.0 92.9,524.6 93.8,525.2 94.8,525.8 95.7,526.3 96.7,526.9 97.6,527.4 98.4,527.9 99.3,528.4 100.3,529.1 101.3,529.8 102.2,530.5 103.1,531.1 104.0,531.8 104.9,532.3 105.8,532.9 106.7,533.4 107.8,533.9 108.8,534.3 109.9,534.7 111.0,535.0 112.0,535.3 113.1,535.6 114.1,535.9 115.2,536.1 116.3,536.4 117.3,536.7 118.4,536.9 119.5,537.1 120.5,537.1 121.6,537.1 122.6,537.0 123.6,536.7 124.6,536.3 125.7,535.9 126.7,535.4 127.8,535.0 129.0,534.6 129.9,534.4 130.9,534.2 131.8,533.9 132.8,533.7 133.8,533.5 134.9,533.2 135.9,533.0 136.9,532.7 138.0,532.4 139.0,532.1 140.0,531.8 140.9,531.5 141.9,531.1 142.9,530.7 143.9,530.4 144.9,530.0 145.9,529.6 146.9,529.2 147.9,528.8 148.9,528.4 149.9,528.0 150.9,527.6 151.9,527.2 152.9,526.8 153.8,526.3 154.8,525.9 155.8,525.5 156.8,525.2 157.8,524.9 158.8,524.7 159.9,524.5 161.1,524.3 162.2,524.2 163.4,524.1 164.5,524.1 165.6,524.1 166.7,524.2 167.7,524.4 168.7,524.7 169.7,525.1 170.6,525.7 171.4,526.4 172.2,527.1 173.0,527.9 173.8,528.7 174.6,529.5 175.4,530.2 176.2,530.9 177.1,531.6 178.0,532.3 179.0,532.9 179.9,533.6 180.8,534.2 181.8,534.8 182.7,535.3 183.6,535.9 184.6,536.4 185.5,536.9 186.4,537.4 187.3,537.8 188.3,538.3 189.2,538.6 190.1,538.9 191.1,539.1 192.1,539.2 193.1,539.2 194.1,539.1 195.1,539.0 196.2,538.8 197.3,538.6 198.5,538.3 199.4,538.2 200.4,537.9 201.5,537.6 202.5,537.3 203.6,537.0 204.7,536.7 205.7,536.4 206.7,536.2 207.6,536.0 208.4,535.9 209.7,535.8 210.7,535.9 211.5,536.1 212.3,536.5 213.4,537.1 214.1,537.6 214.9,538.1 215.7,538.8 216.5,539.5 217.4,540.2 218.3,541.0 219.1,541.8 220.0,542.5 220.8,543.3 221.6,544.0 222.3,544.7 223.1,545.5 223.8,546.3 224.6,547.1 225.3,547.8 226.1,548.6 226.8,549.4 227.5,550.1 228.3,550.8 229.1,551.5 229.9,552.2 230.8,553.0 231.6,553.7 232.4,554.3 233.3,555.0 234.1,555.5 234.9,556.0 235.7,556.5 236.8,556.9 237.9,557.2 238.9,557.4 240.0,557.5 241.0,557.6 242.1,557.5 243.2,557.5 244.2,557.3 245.3,557.1 246.4,556.7 247.4,556.3 248.5,555.9 249.6,555.5 250.6,555.0 251.6,554.5 252.5,554.1 253.4,553.6 254.3,553.0 255.3,552.5 256.2,551.9 257.1,551.3 258.1,550.8 259.0,550.1 259.9,549.5 260.9,548.8 261.8,548.1 262.7,547.4 263.6,546.8 264.6,546.2 265.5,545.8 266.6,545.4 267.6,545.1 268.7,544.9 269.8,544.8 270.8,544.7 271.9,544.6 273.0,544.6 274.0,544.5 275.1,544.6 276.1,544.7 277.2,544.7 278.3,544.8 279.3,544.7 280.4,544.6 281.3,544.3 282.3,543.9 283.2,543.4 284.1,542.9 285.0,542.4 286.0,541.8 286.9,541.3 287.8,540.8 288.8,540.3 289.8,539.8 290.8,539.3 291.7,538.8 292.7,538.3 293.6,537.9 294.5,537.5 295.3,537.1 296.5,536.6 297.5,536.3 298.5,536.0 300.0,535.9 300.9,535.8 301.9,535.8 302.9,535.8 304.1,535.9 305.2,535.9 306.4,536.0 307.6,536.0 308.8,535.9 309.9,535.9 310.9,535.8 312.0,535.6 313.0,535.4 314.0,535.3 315.0,535.0 316.1,534.8 317.1,534.6 318.0,534.4 319.0,534.3 319.9,534.1 321.0,533.9 322.2,533.7 323.2,533.5 324.2,533.3 325.2,533.2 326.3,533.3 327.3,533.4 328.2,533.6 329.1,534.0 330.0,534.5 330.9,535.0 331.9,535.6 332.8,536.2 333.7,536.7 334.7,537.1 335.6,537.5 336.6,537.8 337.5,538.2 338.5,538.5 339.5,538.8 340.5,539.1 341.5,539.3 342.5,539.5 343.4,539.6 344.5,539.6 345.6,539.5 346.7,539.3 347.8,539.1 348.9,538.9 349.9,538.7 351.0,538.5 352.1,538.3 353.2,538.3 354.3,538.2 355.4,538.1 356.5,538.0 357.5,538.0 358.6,538.1 359.7,538.2 360.8,538.3 361.8,538.6 362.7,538.9 363.6,539.2 364.6,539.6 365.5,540.0 366.5,540.5 367.5,541.0 368.5,541.5 369.5,542.1 370.3,542.6 371.2,543.1 372.2,543.7 373.1,544.4 374.0,545.0 375.0,545.7 375.9,546.3 376.8,546.9 377.7,547.4 378.6,547.9 379.4,548.3 380.6,548.7 381.7,548.9 382.8,549.0 383.8,549.1 384.8,549.1 385.8,549.3 386.8,549.5 387.8,549.8 388.7,550.2 389.6,550.6 390.6,551.1 391.5,551.6 392.4,552.1 393.4,552.6 394.3,553.2 395.1,553.8 395.9,554.5 396.8,555.2 397.6,556.0 398.4,556.7 399.3,557.5 400.1,558.2 400.9,558.8 401.7,559.4 402.7,560.0 403.6,560.6 404.5,561.2 405.5,561.6 406.4,562.1 407.3,562.5 408.3,562.9 409.2,563.2 410.2,563.5 411.3,563.7 412.4,563.8 413.4,563.9 414.5,564.0 415.6,564.0 416.6,563.9 417.7,563.8 418.7,563.6 419.7,563.3 420.7,563.0 421.8,562.7 422.9,562.3 424.1,561.9 425.0,561.6 425.9,561.3 426.9,560.9 427.9,560.5 428.9,560.1 429.9,559.7 430.9,559.3 432.0,558.9 433.0,558.5 434.0,558.2 435.0,557.9 436.0,557.7 437.1,557.4 438.1,557.2 439.1,557.0 440.1,556.8 441.1,556.6 442.1,556.4 443.0,556.1 443.9,555.7 445.0,555.2 445.9,554.7 446.8,554.1 447.6,553.5 448.5,552.8 449.4,552.1 450.3,551.5 451.4,550.8 452.2,550.2 453.0,549.7 453.9,549.2 454.8,548.6 455.7,548.1 456.6,547.5 457.6,547.0 458.5,546.4 459.5,545.8 460.4,545.2 461.3,544.6 462.1,544.0 463.0,543.4 463.8,542.8 464.7,542.2 465.6,541.6 466.4,541.0 467.3,540.4 468.1,539.7 468.9,539.1 469.7,538.4 470.5,537.8 471.2,537.1 472.0,536.4 472.7,535.6 473.4,534.9 474.1,534.1 474.8,533.3 475.4,532.5 476.1,531.7 476.7,530.9 477.3,530.1 478.0,529.3 478.7,528.4 479.3,527.6 479.9,526.8 480.5,526.0 481.1,525.1 481.8,524.3 482.4,523.4 483.0,522.5 483.6,521.7 484.2,520.8 484.9,520.0 485.5,519.2 486.1,518.5 486.8,517.6 487.6,516.8 488.3,515.9 489.1,515.1 489.8,514.3 490.6,513.6 491.3,512.8 492.1,512.2 492.8,511.6 493.5,511.1 494.6,510.4 495.7,509.8 496.7,509.4 497.8,509.0 498.9,508.8 499.9,508.6 501.0,508.6 502.1,508.7 503.1,508.9 504.2,509.2 505.2,509.6 506.3,510.1 507.4,510.6 508.4,511.1 509.4,511.5 510.3,512.0 511.2,512.6 512.2,513.1 513.1,513.7 514.0,514.2 515.0,514.8 515.9,515.3 516.8,515.7 517.7,516.1 518.7,516.4 519.6,516.8 520.5,517.1 521.5,517.5 522.4,518.0 523.3,518.5 524.2,519.0 525.0,519.6 525.8,520.2 526.6,520.8 527.5,521.5 528.3,522.2 529.1,523.0 529.9,523.8 530.8,524.7 531.4,525.4 532.0,526.1 532.6,526.9 533.3,527.6 533.9,528.4 534.5,529.3 535.1,530.1 535.7,531.0 536.4,531.9 537.0,532.8 537.6,533.7 538.2,534.6 538.7,535.5 539.3,536.3 539.8,537.2 540.3,538.2 540.9,539.2 541.4,540.1 541.9,541.1 542.5,542.1 543.0,543.0 543.5,543.9 544.1,544.8 544.6,545.6 545.1,546.3 545.7,547.0 546.5,548.0 547.3,548.9 548.1,549.6 549.0,550.3 549.8,550.9 550.6,551.5 551.4,552.0 552.3,552.4 553.1,552.7 554.2,553.1 555.2,553.4 556.3,553.5 557.4,553.6 558.4,553.6 559.5,553.4 560.5,553.2 561.5,553.0 562.4,552.7 563.3,552.3 564.3,551.8 565.2,551.3 566.1,550.7 567.1,550.1 568.0,549.5 568.8,548.9 569.6,548.3 570.4,547.6 571.2,546.9 572.0,546.1 572.8,545.4 573.6,544.7 574.5,544.0 575.4,543.3 576.3,542.8 577.1,542.3 578.0,541.7 579.0,541.2 579.9,540.7 580.9,540.2 581.8,539.8 582.8,539.3 583.7,539.0 584.5,538.6 585.4,538.3 586.6,538.0 587.7,537.9 588.7,537.8 589.8,537.8 590.8,537.8 591.8,537.8 592.8,537.9 593.8,537.8 594.9,537.8 595.9,537.8 596.9,537.8 597.9,537.9 599.0,538.1 600.0,538.3 600.9,538.7 601.8,539.1 602.8,539.7 603.7,540.2 604.6,540.8 605.6,541.4 606.5,542.0 607.4,542.6 608.4,543.1 609.3,543.6 610.2,544.2 611.2,544.8 612.1,545.3 613.0,545.8 614.0,546.2 614.9,546.5 616.0,546.9 617.0,547.1 618.1,547.4 619.1,547.5 620.2,547.6 621.3,547.6 622.3,547.5 623.4,547.4 624.5,547.1 625.5,546.8 626.6,546.4 627.6,546.0 628.7,545.5 629.8,545.0 630.7,544.6 631.6,544.1 632.6,543.6 633.5,543.0 634.4,542.4 635.4,541.9 636.3,541.3 637.2,540.8 638.2,540.4 639.1,539.9 640.0,539.4 640.9,539.0 641.9,538.5 642.8,538.2 643.7,537.8 644.7,537.6 645.7,537.4 646.7,537.3 647.7,537.2 648.7,537.2 649.8,537.2 650.9,537.4 652.1,537.6 653.0,537.8 654.0,538.2 655.0,538.6 656.0,539.0 657.1,539.5 658.1,540.0 659.2,540.4 660.2,540.8 661.1,541.1 662.0,541.3 663.2,541.5 664.3,541.5 665.4,541.5 666.4,541.4 667.4,541.2 668.4,541.0 669.5,540.8 670.5,540.6 671.5,540.4 672.5,540.1 673.6,539.8 674.6,539.6 675.7,539.3 676.9,539.1 677.9,539.0 678.9,538.8 680.0,538.7 681.0,538.6 682.1,538.5 683.3,538.5 684.4,538.4 685.6,538.4 686.8,538.3 687.8,538.3 688.8,538.3 689.8,538.3 690.9,538.3 692.0,538.4 693.1,538.4 694.1,538.4 695.2,538.5 696.3,538.5 697.3,538.6 698.3,538.7 699.3,538.8 700.4,539.0 701.4,539.3 702.5,539.6 703.5,539.9 704.5,540.2 705.5,540.5 706.5,540.8 707.4,541.1 708.3,541.4 709.2,541.6 710.4,541.8 711.4,542.1 712.4,542.3 713.4,542.4 714.4,542.5 715.5,542.6 716.6,542.6 717.5,542.5 718.5,542.4 719.5,542.3 720.5,542.1 721.6,541.9 722.6,541.7 723.7,541.5 724.7,541.3 725.6,541.0 726.6,540.8 727.7,540.5 728.8,540.2 729.8,540.0 730.8,539.6 731.8,539.3 732.8,538.8 734.0,538.3 734.8,538.0 735.6,537.6 736.5,537.2 737.4,536.8 738.3,536.3 739.2,535.8 740.1,535.4 741.1,534.9 742.0,534.4 743.0,533.9 743.9,533.4 744.8,532.9 745.7,532.4 746.7,531.8 747.6,531.2 748.6,530.5 749.6,529.9 750.5,529.4 751.5,528.9 752.4,528.4 753.4,528.1 754.2,527.8 755.1,527.7 756.2,527.7 757.2,528.0 758.1,528.4 759.0,528.9 760.0,529.6 760.9,530.2 761.8,530.9 762.8,531.6 763.8,532.1 764.6,532.6 765.5,533.1 766.5,533.7 767.4,534.2 768.3,534.8 769.3,535.3 770.2,535.8 771.1,536.3 772.0,536.7 772.9,536.9 773.7,537.1 774.9,537.1 775.9,537.0 776.9,536.6 777.9,536.1 778.9,535.6 780.0,535.1 781.1,534.6 782.0,534.3 783.0,534.0 784.0,533.6 785.1,533.3 786.1,532.9 787.2,532.6 788.2,532.3 789.2,532.0 790.2,531.8 791.1,531.7 792.3,531.6 793.4,531.6 794.4,531.6 795.5,531.8 796.5,532.0 797.5,532.3 798.5,532.6 799.4,533.0 800.4,533.5 801.3,534.1 802.2,534.7 803.2,535.2 804.1,535.8 805.0,536.3 806.0,536.6 807.0,536.9 808.1,537.1 809.1,537.3 810.2,537.4 811.3,537.4 812.3,537.3 813.4,537.1 814.3,536.9 815.2,536.6 816.1,536.3 817.0,536.0 817.9,535.5 818.8,534.9 819.8,534.2 820.8,533.4 821.5,532.8 822.2,532.1 822.9,531.4 823.6,530.6 824.3,529.7 825.1,528.8 825.8,527.9 826.6,527.0 827.3,526.1 828.0,525.2 828.8,524.3 829.5,523.6 830.1,522.8 830.8,522.2 831.8,521.3 832.8,520.4 833.7,519.6 834.6,519.0 835.5,518.4 836.4,517.9 837.3,517.5 838.2,517.3 839.3,517.0 840.3,516.9 841.3,516.8 842.3,516.9 843.3,517.2 844.5,517.7 845.7,518.5 846.3,519.0 847.0,519.6 847.7,520.4 848.5,521.2 849.2,522.1 850.0,523.0 850.8,524.0 851.6,524.9 852.3,525.9 853.1,526.8 853.8,527.6 854.4,528.4 855.0,529.1 855.6,529.7 856.8,530.7 857.6,531.2 858.3,531.5 859.0,531.9 860.0,532.6 860.6,533.2 861.2,533.9 861.9,534.6 862.5,535.5 863.3,536.3 864.0,537.1 864.8,537.9 865.5,538.7 866.4,539.3 867.2,539.8 868.1,540.3 869.0,540.6 870.0,540.9 871.0,541.1 872.0,541.3 873.0,541.5 874.1,541.6 875.2,541.7 876.2,541.8 877.3,541.9 878.3,542.0 879.4,542.0 880.4,542.1 881.5,542.1 882.6,542.1 883.7,542.1 884.8,542.1 885.9,542.1 886.9,542.0 887.9,542.0 888.9,541.9 890.1,541.7 891.2,541.5 892.2,541.3 893.2,541.0 894.2,540.8 895.2,540.5 896.3,540.2 897.5,539.8 898.5,539.6 899.5,539.4 900.5,539.2 901.5,538.9 902.6,538.7 903.7,538.4 904.8,538.2 905.8,537.9 906.9,537.6 908.0,537.3 909.1,537.0 910.0,536.7 911.0,536.3 912.0,536.0 913.0,535.6 914.0,535.3 914.9,534.9 915.9,534.6 916.9,534.2 917.8,533.8 918.8,533.4 919.7,533.0 920.6,532.6 921.6,532.2 922.7,531.7 923.8,531.2 924.8,530.7 925.9,530.2 926.9,529.7 927.9,529.2 928.7,528.7 929.5,528.3 930.2,528.0 930.7,527.7" fill="none" stroke="#ff0000" stroke-width="1" shape-rendering="crispEdges"/><g shape-rendering="crispEdges"><line x1="6" y1="598.5" x2="1168" y2="598.5" stroke="#c0c0c0" stroke-width="1" stroke-dasharray="3,3"/><line x1="6" y1="632.5" x2="1168" y2="632.5" stroke="#c0c0c0" stroke-width="1" stroke-dasharray="3,3"/><rect x="1169" y="598" width="1" height="1" fill="#000"/><rect x="1169" y="632" width="1" height="1" fill="#000"/></g><polyline points="6.4,610.7 10.3,612.0 14.1,613.3 16.7,611.5 19.2,614.1 23.1,609.5 24.9,613.3 26.4,592.8 29.5,593.6 32.1,588.9 35.9,585.6 41.0,586.9 44.9,585.1 48.7,583.8 53.8,585.9 56.4,588.9 58.5,599.2 61.5,603.1 64.1,600.5 67.9,596.6 70.5,603.1 74.4,606.9 78.2,605.6 82.1,617.2 85.9,610.7 89.7,608.9 93.6,613.3 96.9,610.7 101.3,614.6 106.4,623.6 109.0,613.3 112.8,613.3 116.7,610.7 120.5,612.5 124.4,608.2 128.2,608.9 130.8,604.3 133.3,610.0 138.5,606.9 143.6,599.2 150.0,596.1 153.8,605.6 156.4,601.3 160.3,599.2 164.1,598.7 166.7,610.7 170.5,622.3 174.4,616.6 178.2,619.7 182.1,617.2 185.1,617.2 186.7,622.3 188.5,610.7 192.3,609.5 196.2,612.0 200.0,615.1 203.8,608.2 209.0,605.6 210.3,612.0 214.1,632.0 219.2,632.5 223.1,630.0 226.9,629.5 230.8,630.5 235.9,623.6 241.0,624.8 246.2,622.3 251.3,614.6 255.1,610.0 259.0,613.3 261.5,610.7 265.4,619.7 269.2,623.6 271.8,627.9 275.6,610.7 280.8,612.0 284.6,609.5 291.0,608.2 296.2,605.6 298.7,614.6 300.0,615.9 305.1,613.3 307.7,617.2 310.3,605.6 315.4,608.2 319.2,606.4 323.1,617.2 326.9,621.0 332.1,619.7 334.6,623.6 335.9,612.0 339.7,613.3 343.6,609.5 347.4,608.9 351.3,615.1 355.1,618.4 359.0,624.8 364.1,626.9 366.7,622.3 368.7,615.1 371.8,627.9 376.9,623.6 380.8,621.0 382.6,617.2 385.9,630.5 391.0,632.5 396.2,637.2 400.0,636.4 402.6,631.3 405.1,634.6 409.0,631.3 412.8,630.5 417.9,633.8 421.8,630.0 425.6,627.9 429.5,632.5 432.1,626.1 435.9,630.0 439.7,630.5 441.0,624.8 442.8,631.3 444.9,615.9 448.7,611.5 453.8,612.5 457.7,614.6 461.5,609.5 464.1,608.2 466.7,596.6 470.5,592.8 474.4,592.0 479.0,587.7 483.3,589.5 487.2,587.7 492.3,586.4 496.2,587.7 500.0,586.9 502.6,597.9 506.4,598.7 510.3,600.5 514.1,596.6 517.9,595.6 521.8,597.9 525.6,613.3 528.2,626.1 532.1,628.7 534.6,624.8 538.5,634.6 541.0,630.0 546.2,626.1 548.7,630.5 552.6,619.7 556.4,619.2 560.3,620.2 564.1,608.2 567.9,606.9 569.2,605.6 573.1,615.9 578.2,609.5 582.1,615.9 587.2,612.0 591.0,612.8 594.9,617.2 598.7,623.6 600.0,623.0 604.2,624.4 607.0,622.2 611.2,623.9 614.1,621.6 616.3,615.4 619.7,618.2 625.3,618.8 629.5,616.0 634.3,602.5 638.0,606.2 642.2,609.0 645.0,611.8 647.8,623.0 652.0,627.8 656.2,616.0 661.9,609.0 666.1,613.2 670.3,621.6 673.1,611.8 678.7,607.6 684.4,617.4 687.2,614.6 695.6,613.7 699.8,620.2 704.0,617.4 706.9,621.1 709.7,621.6 716.7,610.4 722.3,613.2 725.1,618.8 728.8,616.0 733.6,600.5 737.8,601.9 743.4,597.7 746.2,597.7 751.9,610.4 758.9,621.1 764.5,620.2 768.7,613.2 772.1,611.8 776.6,597.7 778.6,607.0 782.8,604.7 787.0,607.6 791.2,615.4 796.9,613.7 800.2,622.2 803.9,614.6 808.1,613.2 813.7,599.1 817.9,601.9 820.8,598.6 823.6,601.4 830.6,592.9 834.8,594.9 838.5,609.0 844.7,611.8 850.3,622.2 855.9,621.6 858.7,617.4 861.0,623.0 864.3,623.9 867.2,610.4 871.4,614.6 874.2,622.2 878.4,617.4 882.6,614.6 884.6,621.1 886.8,615.4 892.5,612.6 894.7,609.0 902.3,613.7 909.3,604.2 913.6,606.2 920.0,604.2 923.4,596.3 926.2,592.1 929.6,596.3" fill="none" stroke="#1e90ff" stroke-width="1" shape-rendering="crispEdges"/><g shape-rendering="crispEdges"><rect x="6" y="658" width="1" height="4" fill="#000"/><rect x="70" y="658" width="1" height="4" fill="#000"/><rect x="134" y="658" width="1" height="4" fill="#000"/><rect x="198" y="658" width="1" height="4" fill="#000"/><rect x="262" y="658" width="1" height="4" fill="#000"/><rect x="326" y="658" width="1" height="4" fill="#000"/><rect x="390" y="658" width="1" height="4" fill="#000"/><rect x="454" y="658" width="1" height="4" fill="#000"/><rect x="518" y="658" width="1" height="4" fill="#000"/><rect x="582" y="658" width="1" height="4" fill="#000"/><rect x="646" y="658" width="1" height="4" fill="#000"/><rect x="710" y="658" width="1" height="4" fill="#000"/><rect x="774" y="658" width="1" height="4" fill="#000"/><rect x="838" y="658" width="1" height="4" fill="#000"/><rect x="902" y="658" width="1" height="4" fill="#000"/></g></svg>
</body></html>
